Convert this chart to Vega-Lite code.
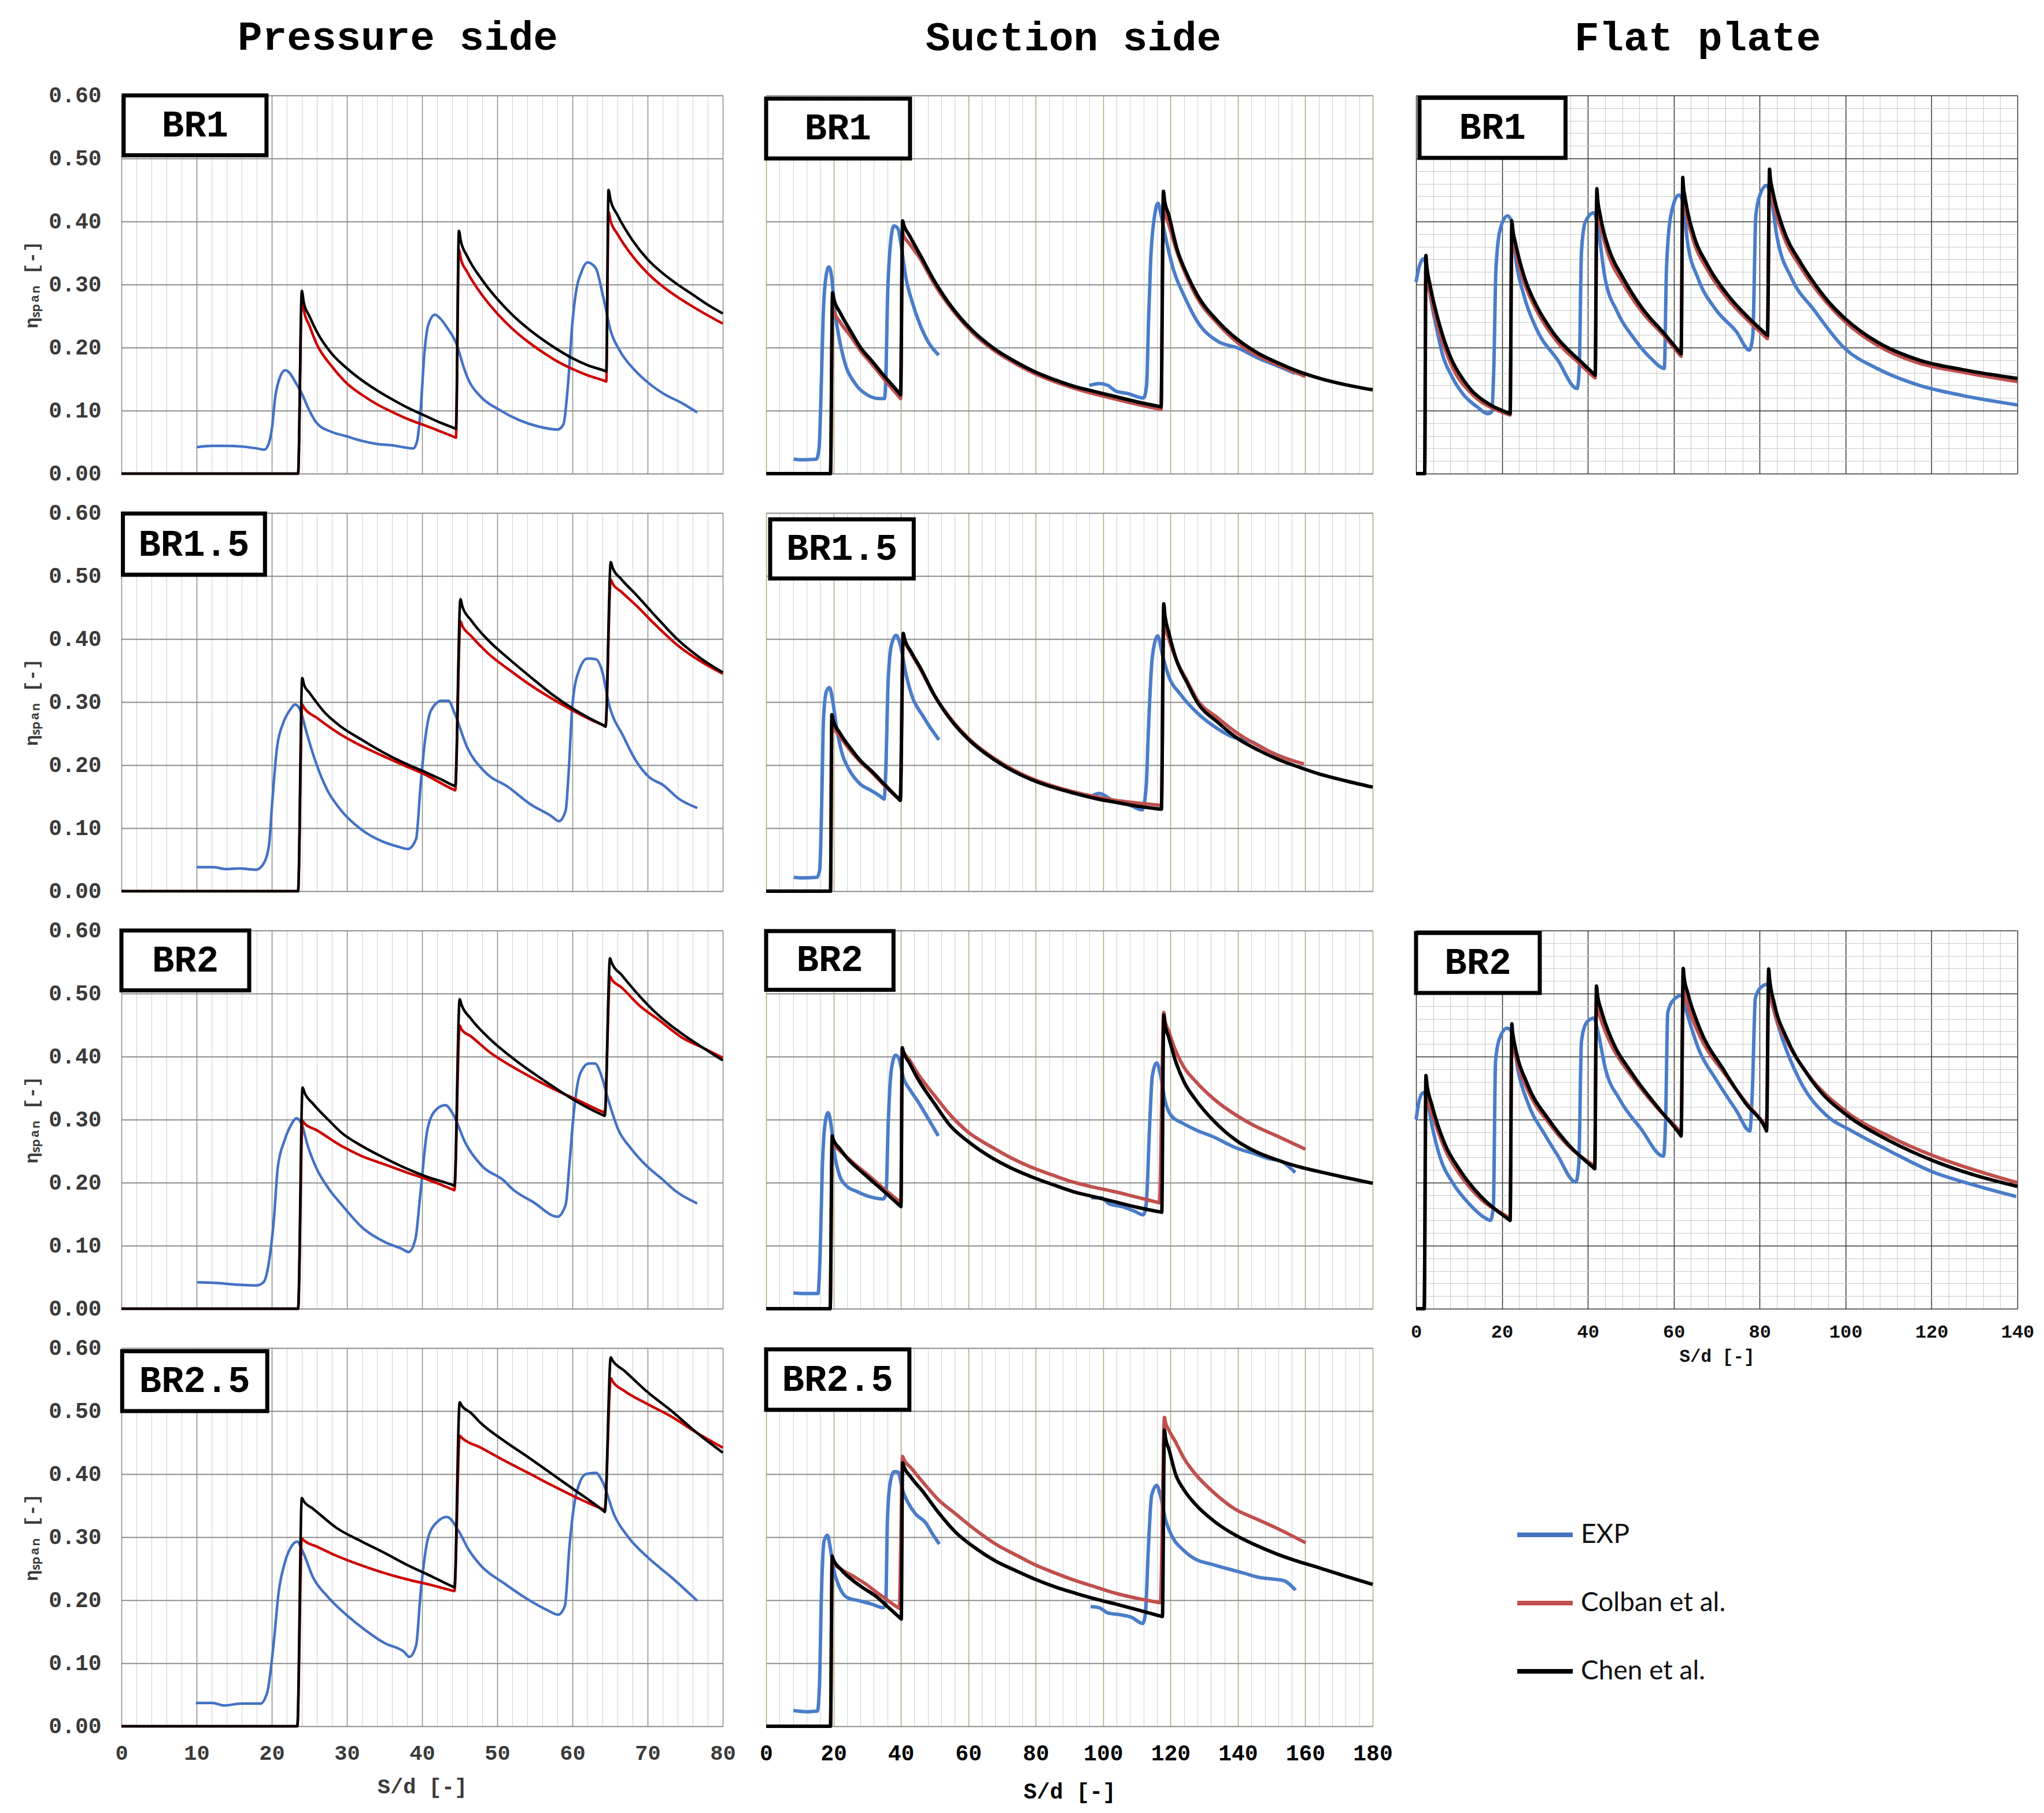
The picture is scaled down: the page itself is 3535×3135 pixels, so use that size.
{
  "$schema": "https://vega.github.io/schema/vega-lite/v6.json",
  "padding": {"left": 38, "top": 29, "right": 5, "bottom": 5},
  "background": "white",
  "datasets": {
    "curves": [
      {"panel":"P1","series":"EXP","seg":1,"x":10,"y":0.042},{"panel":"P1","series":"EXP","seg":1,"x":12,"y":0.044},{"panel":"P1","series":"EXP","seg":1,"x":14,"y":0.044},{"panel":"P1","series":"EXP","seg":1,"x":16,"y":0.043},{"panel":"P1","series":"EXP","seg":1,"x":18,"y":0.04},{"panel":"P1","series":"EXP","seg":1,"x":19,"y":0.038},{"panel":"P1","series":"EXP","seg":1,"x":19.6,"y":0.048},{"panel":"P1","series":"EXP","seg":1,"x":20,"y":0.07},{"panel":"P1","series":"EXP","seg":1,"x":20.5,"y":0.125},{"panel":"P1","series":"EXP","seg":1,"x":21,"y":0.15},{"panel":"P1","series":"EXP","seg":1,"x":21.8,"y":0.164},{"panel":"P1","series":"EXP","seg":1,"x":22.5,"y":0.158},{"panel":"P1","series":"EXP","seg":1,"x":23,"y":0.148},{"panel":"P1","series":"EXP","seg":1,"x":24,"y":0.127},{"panel":"P1","series":"EXP","seg":1,"x":25,"y":0.1},{"panel":"P1","series":"EXP","seg":1,"x":26,"y":0.08},{"panel":"P1","series":"EXP","seg":1,"x":28,"y":0.066},{"panel":"P1","series":"EXP","seg":1,"x":30,"y":0.059},{"panel":"P1","series":"EXP","seg":1,"x":32,"y":0.052},{"panel":"P1","series":"EXP","seg":1,"x":34,"y":0.047},{"panel":"P1","series":"EXP","seg":1,"x":36,"y":0.045},{"panel":"P1","series":"EXP","seg":1,"x":38,"y":0.041},{"panel":"P1","series":"EXP","seg":1,"x":38.8,"y":0.04},{"panel":"P1","series":"EXP","seg":1,"x":39.3,"y":0.05},{"panel":"P1","series":"EXP","seg":1,"x":39.8,"y":0.1},{"panel":"P1","series":"EXP","seg":1,"x":40.3,"y":0.19},{"panel":"P1","series":"EXP","seg":1,"x":40.8,"y":0.235},{"panel":"P1","series":"EXP","seg":1,"x":41.7,"y":0.252},{"panel":"P1","series":"EXP","seg":1,"x":42.5,"y":0.245},{"panel":"P1","series":"EXP","seg":1,"x":43.3,"y":0.232},{"panel":"P1","series":"EXP","seg":1,"x":44.6,"y":0.205},{"panel":"P1","series":"EXP","seg":1,"x":45.5,"y":0.17},{"panel":"P1","series":"EXP","seg":1,"x":46.2,"y":0.148},{"panel":"P1","series":"EXP","seg":1,"x":47.8,"y":0.122},{"panel":"P1","series":"EXP","seg":1,"x":50.3,"y":0.101},{"panel":"P1","series":"EXP","seg":1,"x":52.9,"y":0.085},{"panel":"P1","series":"EXP","seg":1,"x":55.4,"y":0.075},{"panel":"P1","series":"EXP","seg":1,"x":58,"y":0.07},{"panel":"P1","series":"EXP","seg":1,"x":58.8,"y":0.078},{"panel":"P1","series":"EXP","seg":1,"x":59.4,"y":0.14},{"panel":"P1","series":"EXP","seg":1,"x":60,"y":0.24},{"panel":"P1","series":"EXP","seg":1,"x":60.5,"y":0.29},{"panel":"P1","series":"EXP","seg":1,"x":61.2,"y":0.32},{"panel":"P1","series":"EXP","seg":1,"x":62,"y":0.335},{"panel":"P1","series":"EXP","seg":1,"x":63.1,"y":0.326},{"panel":"P1","series":"EXP","seg":1,"x":64.1,"y":0.28},{"panel":"P1","series":"EXP","seg":1,"x":65.1,"y":0.226},{"panel":"P1","series":"EXP","seg":1,"x":66.3,"y":0.195},{"panel":"P1","series":"EXP","seg":1,"x":68.3,"y":0.164},{"panel":"P1","series":"EXP","seg":1,"x":70.2,"y":0.143},{"panel":"P1","series":"EXP","seg":1,"x":72.1,"y":0.127},{"panel":"P1","series":"EXP","seg":1,"x":74.7,"y":0.111},{"panel":"P1","series":"EXP","seg":1,"x":76.6,"y":0.097},
      {"panel":"P1","series":"Colban","seg":1,"x":0,"y":0},{"panel":"P1","series":"Colban","seg":1,"x":23.5,"y":0},{"panel":"P1","series":"Colban","seg":1,"x":24,"y":0.28},{"panel":"P1","series":"Colban","seg":1,"x":24.25,"y":0.26},{"panel":"P1","series":"Colban","seg":1,"x":25,"y":0.235},{"panel":"P1","series":"Colban","seg":1,"x":26,"y":0.205},{"panel":"P1","series":"Colban","seg":1,"x":28,"y":0.17},{"panel":"P1","series":"Colban","seg":1,"x":30,"y":0.143},{"panel":"P1","series":"Colban","seg":1,"x":32,"y":0.125},{"panel":"P1","series":"Colban","seg":1,"x":34,"y":0.11},{"panel":"P1","series":"Colban","seg":1,"x":36,"y":0.098},{"panel":"P1","series":"Colban","seg":1,"x":38,"y":0.087},{"panel":"P1","series":"Colban","seg":1,"x":40,"y":0.078},{"panel":"P1","series":"Colban","seg":1,"x":42,"y":0.069},{"panel":"P1","series":"Colban","seg":1,"x":44.3,"y":0.058},{"panel":"P1","series":"Colban","seg":1,"x":44.5,"y":0.057},{"panel":"P1","series":"Colban","seg":1,"x":44.9,"y":0.355},{"panel":"P1","series":"Colban","seg":1,"x":45.15,"y":0.341},{"panel":"P1","series":"Colban","seg":1,"x":46,"y":0.32},{"panel":"P1","series":"Colban","seg":1,"x":48,"y":0.283},{"panel":"P1","series":"Colban","seg":1,"x":50,"y":0.254},{"panel":"P1","series":"Colban","seg":1,"x":52,"y":0.23},{"panel":"P1","series":"Colban","seg":1,"x":54,"y":0.21},{"panel":"P1","series":"Colban","seg":1,"x":56,"y":0.193},{"panel":"P1","series":"Colban","seg":1,"x":58,"y":0.178},{"panel":"P1","series":"Colban","seg":1,"x":60,"y":0.166},{"panel":"P1","series":"Colban","seg":1,"x":62,"y":0.156},{"panel":"P1","series":"Colban","seg":1,"x":64.3,"y":0.147},{"panel":"P1","series":"Colban","seg":1,"x":64.5,"y":0.146},{"panel":"P1","series":"Colban","seg":1,"x":64.8,"y":0.415},{"panel":"P1","series":"Colban","seg":1,"x":65.05,"y":0.402},{"panel":"P1","series":"Colban","seg":1,"x":66,"y":0.38},{"panel":"P1","series":"Colban","seg":1,"x":68,"y":0.345},{"panel":"P1","series":"Colban","seg":1,"x":70,"y":0.318},{"panel":"P1","series":"Colban","seg":1,"x":72,"y":0.297},{"panel":"P1","series":"Colban","seg":1,"x":74,"y":0.28},{"panel":"P1","series":"Colban","seg":1,"x":76,"y":0.265},{"panel":"P1","series":"Colban","seg":1,"x":78,"y":0.251},{"panel":"P1","series":"Colban","seg":1,"x":80,"y":0.238},
      {"panel":"P1","series":"Chen","seg":1,"x":0,"y":0},{"panel":"P1","series":"Chen","seg":1,"x":23.5,"y":0},{"panel":"P1","series":"Chen","seg":1,"x":24,"y":0.29},{"panel":"P1","series":"Chen","seg":1,"x":24.25,"y":0.272},{"panel":"P1","series":"Chen","seg":1,"x":25,"y":0.25},{"panel":"P1","series":"Chen","seg":1,"x":26,"y":0.225},{"panel":"P1","series":"Chen","seg":1,"x":28,"y":0.19},{"panel":"P1","series":"Chen","seg":1,"x":30,"y":0.167},{"panel":"P1","series":"Chen","seg":1,"x":32,"y":0.148},{"panel":"P1","series":"Chen","seg":1,"x":34,"y":0.132},{"panel":"P1","series":"Chen","seg":1,"x":36,"y":0.118},{"panel":"P1","series":"Chen","seg":1,"x":38,"y":0.105},{"panel":"P1","series":"Chen","seg":1,"x":40,"y":0.094},{"panel":"P1","series":"Chen","seg":1,"x":42,"y":0.083},{"panel":"P1","series":"Chen","seg":1,"x":44.3,"y":0.072},{"panel":"P1","series":"Chen","seg":1,"x":44.5,"y":0.071},{"panel":"P1","series":"Chen","seg":1,"x":44.9,"y":0.385},{"panel":"P1","series":"Chen","seg":1,"x":45.15,"y":0.369},{"panel":"P1","series":"Chen","seg":1,"x":46,"y":0.345},{"panel":"P1","series":"Chen","seg":1,"x":48,"y":0.307},{"panel":"P1","series":"Chen","seg":1,"x":50,"y":0.277},{"panel":"P1","series":"Chen","seg":1,"x":52,"y":0.252},{"panel":"P1","series":"Chen","seg":1,"x":54,"y":0.231},{"panel":"P1","series":"Chen","seg":1,"x":56,"y":0.213},{"panel":"P1","series":"Chen","seg":1,"x":58,"y":0.197},{"panel":"P1","series":"Chen","seg":1,"x":60,"y":0.183},{"panel":"P1","series":"Chen","seg":1,"x":62,"y":0.172},{"panel":"P1","series":"Chen","seg":1,"x":64.3,"y":0.163},{"panel":"P1","series":"Chen","seg":1,"x":64.5,"y":0.162},{"panel":"P1","series":"Chen","seg":1,"x":64.8,"y":0.45},{"panel":"P1","series":"Chen","seg":1,"x":65.05,"y":0.435},{"panel":"P1","series":"Chen","seg":1,"x":66,"y":0.41},{"panel":"P1","series":"Chen","seg":1,"x":68,"y":0.37},{"panel":"P1","series":"Chen","seg":1,"x":70,"y":0.34},{"panel":"P1","series":"Chen","seg":1,"x":72,"y":0.318},{"panel":"P1","series":"Chen","seg":1,"x":74,"y":0.3},{"panel":"P1","series":"Chen","seg":1,"x":76,"y":0.284},{"panel":"P1","series":"Chen","seg":1,"x":78,"y":0.268},{"panel":"P1","series":"Chen","seg":1,"x":80,"y":0.254},

      {"panel":"P15","series":"EXP","seg":1,"x":10,"y":0.038},{"panel":"P15","series":"EXP","seg":1,"x":12.3,"y":0.038},{"panel":"P15","series":"EXP","seg":1,"x":13.9,"y":0.035},{"panel":"P15","series":"EXP","seg":1,"x":15.6,"y":0.036},{"panel":"P15","series":"EXP","seg":1,"x":17.9,"y":0.034},{"panel":"P15","series":"EXP","seg":1,"x":18.7,"y":0.04},{"panel":"P15","series":"EXP","seg":1,"x":19.6,"y":0.07},{"panel":"P15","series":"EXP","seg":1,"x":20.1,"y":0.147},{"panel":"P15","series":"EXP","seg":1,"x":20.7,"y":0.228},{"panel":"P15","series":"EXP","seg":1,"x":21.5,"y":0.266},{"panel":"P15","series":"EXP","seg":1,"x":22.4,"y":0.287},{"panel":"P15","series":"EXP","seg":1,"x":23.1,"y":0.296},{"panel":"P15","series":"EXP","seg":1,"x":23.8,"y":0.287},{"panel":"P15","series":"EXP","seg":1,"x":24.6,"y":0.253},{"panel":"P15","series":"EXP","seg":1,"x":25.7,"y":0.21},{"panel":"P15","series":"EXP","seg":1,"x":27.4,"y":0.16},{"panel":"P15","series":"EXP","seg":1,"x":29.1,"y":0.13},{"panel":"P15","series":"EXP","seg":1,"x":31.9,"y":0.098},{"panel":"P15","series":"EXP","seg":1,"x":34.7,"y":0.079},{"panel":"P15","series":"EXP","seg":1,"x":37,"y":0.07},{"panel":"P15","series":"EXP","seg":1,"x":38.1,"y":0.067},{"panel":"P15","series":"EXP","seg":1,"x":39.2,"y":0.083},{"panel":"P15","series":"EXP","seg":1,"x":39.8,"y":0.168},{"panel":"P15","series":"EXP","seg":1,"x":40.4,"y":0.24},{"panel":"P15","series":"EXP","seg":1,"x":41.2,"y":0.287},{"panel":"P15","series":"EXP","seg":1,"x":42.6,"y":0.302},{"panel":"P15","series":"EXP","seg":1,"x":43.5,"y":0.302},{"panel":"P15","series":"EXP","seg":1,"x":44.3,"y":0.283},{"panel":"P15","series":"EXP","seg":1,"x":46,"y":0.228},{"panel":"P15","series":"EXP","seg":1,"x":48.2,"y":0.191},{"panel":"P15","series":"EXP","seg":1,"x":51.6,"y":0.164},{"panel":"P15","series":"EXP","seg":1,"x":54.4,"y":0.138},{"panel":"P15","series":"EXP","seg":1,"x":57.2,"y":0.119},{"panel":"P15","series":"EXP","seg":1,"x":58.2,"y":0.111},{"panel":"P15","series":"EXP","seg":1,"x":59.1,"y":0.128},{"panel":"P15","series":"EXP","seg":1,"x":59.5,"y":0.189},{"panel":"P15","series":"EXP","seg":1,"x":60,"y":0.296},{"panel":"P15","series":"EXP","seg":1,"x":60.9,"y":0.351},{"panel":"P15","series":"EXP","seg":1,"x":62,"y":0.369},{"panel":"P15","series":"EXP","seg":1,"x":63.1,"y":0.368},{"panel":"P15","series":"EXP","seg":1,"x":64,"y":0.347},{"panel":"P15","series":"EXP","seg":1,"x":64.8,"y":0.3},{"panel":"P15","series":"EXP","seg":1,"x":66.8,"y":0.245},{"panel":"P15","series":"EXP","seg":1,"x":68.5,"y":0.206},{"panel":"P15","series":"EXP","seg":1,"x":70.2,"y":0.181},{"panel":"P15","series":"EXP","seg":1,"x":72.1,"y":0.168},{"panel":"P15","series":"EXP","seg":1,"x":74.1,"y":0.147},{"panel":"P15","series":"EXP","seg":1,"x":76.6,"y":0.132},
      {"panel":"P15","series":"Colban","seg":1,"x":0,"y":0},{"panel":"P15","series":"Colban","seg":1,"x":23.5,"y":0},{"panel":"P15","series":"Colban","seg":1,"x":24.05,"y":0.296},{"panel":"P15","series":"Colban","seg":1,"x":24.3,"y":0.291},{"panel":"P15","series":"Colban","seg":1,"x":26,"y":0.275},{"panel":"P15","series":"Colban","seg":1,"x":29.1,"y":0.249},{"panel":"P15","series":"Colban","seg":1,"x":32,"y":0.23},{"panel":"P15","series":"Colban","seg":1,"x":34.7,"y":0.215},{"panel":"P15","series":"Colban","seg":1,"x":37.5,"y":0.2},{"panel":"P15","series":"Colban","seg":1,"x":40.4,"y":0.185},{"panel":"P15","series":"Colban","seg":1,"x":44.2,"y":0.161},{"panel":"P15","series":"Colban","seg":1,"x":44.4,"y":0.16},{"panel":"P15","series":"Colban","seg":1,"x":45.1,"y":0.428},{"panel":"P15","series":"Colban","seg":1,"x":45.35,"y":0.421},{"panel":"P15","series":"Colban","seg":1,"x":46.5,"y":0.405},{"panel":"P15","series":"Colban","seg":1,"x":48.8,"y":0.377},{"panel":"P15","series":"Colban","seg":1,"x":51.6,"y":0.351},{"panel":"P15","series":"Colban","seg":1,"x":54.4,"y":0.327},{"panel":"P15","series":"Colban","seg":1,"x":57.2,"y":0.306},{"panel":"P15","series":"Colban","seg":1,"x":60,"y":0.287},{"panel":"P15","series":"Colban","seg":1,"x":62.8,"y":0.27},{"panel":"P15","series":"Colban","seg":1,"x":64.2,"y":0.2625},{"panel":"P15","series":"Colban","seg":1,"x":64.4,"y":0.261},{"panel":"P15","series":"Colban","seg":1,"x":65.1,"y":0.494},{"panel":"P15","series":"Colban","seg":1,"x":65.35,"y":0.488},{"panel":"P15","series":"Colban","seg":1,"x":66.5,"y":0.475},{"panel":"P15","series":"Colban","seg":1,"x":68.5,"y":0.453},{"panel":"P15","series":"Colban","seg":1,"x":71,"y":0.423},{"panel":"P15","series":"Colban","seg":1,"x":74.1,"y":0.389},{"panel":"P15","series":"Colban","seg":1,"x":77,"y":0.365},{"panel":"P15","series":"Colban","seg":1,"x":80,"y":0.345},
      {"panel":"P15","series":"Chen","seg":1,"x":0,"y":0},{"panel":"P15","series":"Chen","seg":1,"x":23.5,"y":0},{"panel":"P15","series":"Chen","seg":1,"x":24.05,"y":0.338},{"panel":"P15","series":"Chen","seg":1,"x":24.3,"y":0.327},{"panel":"P15","series":"Chen","seg":1,"x":25,"y":0.315},{"panel":"P15","series":"Chen","seg":1,"x":27,"y":0.284},{"panel":"P15","series":"Chen","seg":1,"x":29.1,"y":0.262},{"panel":"P15","series":"Chen","seg":1,"x":32,"y":0.24},{"panel":"P15","series":"Chen","seg":1,"x":34.7,"y":0.221},{"panel":"P15","series":"Chen","seg":1,"x":37.5,"y":0.204},{"panel":"P15","series":"Chen","seg":1,"x":40.4,"y":0.189},{"panel":"P15","series":"Chen","seg":1,"x":42.5,"y":0.1775},{"panel":"P15","series":"Chen","seg":1,"x":44.2,"y":0.1675},{"panel":"P15","series":"Chen","seg":1,"x":44.4,"y":0.1665},{"panel":"P15","series":"Chen","seg":1,"x":45.1,"y":0.463},{"panel":"P15","series":"Chen","seg":1,"x":45.35,"y":0.452},{"panel":"P15","series":"Chen","seg":1,"x":46.5,"y":0.43},{"panel":"P15","series":"Chen","seg":1,"x":48.8,"y":0.398},{"panel":"P15","series":"Chen","seg":1,"x":51.6,"y":0.368},{"panel":"P15","series":"Chen","seg":1,"x":54.4,"y":0.34},{"panel":"P15","series":"Chen","seg":1,"x":57.2,"y":0.313},{"panel":"P15","series":"Chen","seg":1,"x":60,"y":0.29},{"panel":"P15","series":"Chen","seg":1,"x":62.8,"y":0.271},{"panel":"P15","series":"Chen","seg":1,"x":64.2,"y":0.2625},{"panel":"P15","series":"Chen","seg":1,"x":64.4,"y":0.261},{"panel":"P15","series":"Chen","seg":1,"x":65.1,"y":0.522},{"panel":"P15","series":"Chen","seg":1,"x":65.35,"y":0.513},{"panel":"P15","series":"Chen","seg":1,"x":66.5,"y":0.495},{"panel":"P15","series":"Chen","seg":1,"x":68.5,"y":0.47},{"panel":"P15","series":"Chen","seg":1,"x":71,"y":0.437},{"panel":"P15","series":"Chen","seg":1,"x":74.1,"y":0.398},{"panel":"P15","series":"Chen","seg":1,"x":77,"y":0.37},{"panel":"P15","series":"Chen","seg":1,"x":80,"y":0.347},

      {"panel":"P2","series":"EXP","seg":1,"x":10.1,"y":0.042},{"panel":"P2","series":"EXP","seg":1,"x":12.3,"y":0.041},{"panel":"P2","series":"EXP","seg":1,"x":15.7,"y":0.038},{"panel":"P2","series":"EXP","seg":1,"x":18,"y":0.037},{"panel":"P2","series":"EXP","seg":1,"x":18.9,"y":0.042},{"panel":"P2","series":"EXP","seg":1,"x":19.7,"y":0.08},{"panel":"P2","series":"EXP","seg":1,"x":20.3,"y":0.144},{"panel":"P2","series":"EXP","seg":1,"x":20.8,"y":0.224},{"panel":"P2","series":"EXP","seg":1,"x":21.7,"y":0.267},{"panel":"P2","series":"EXP","seg":1,"x":22.5,"y":0.29},{"panel":"P2","series":"EXP","seg":1,"x":23.3,"y":0.302},{"panel":"P2","series":"EXP","seg":1,"x":24,"y":0.292},{"panel":"P2","series":"EXP","seg":1,"x":24.8,"y":0.258},{"panel":"P2","series":"EXP","seg":1,"x":25.9,"y":0.224},{"panel":"P2","series":"EXP","seg":1,"x":27.6,"y":0.19},{"panel":"P2","series":"EXP","seg":1,"x":29.3,"y":0.165},{"panel":"P2","series":"EXP","seg":1,"x":32.2,"y":0.127},{"panel":"P2","series":"EXP","seg":1,"x":35,"y":0.106},{"panel":"P2","series":"EXP","seg":1,"x":37.3,"y":0.095},{"panel":"P2","series":"EXP","seg":1,"x":38.2,"y":0.09},{"panel":"P2","series":"EXP","seg":1,"x":39.1,"y":0.11},{"panel":"P2","series":"EXP","seg":1,"x":39.8,"y":0.186},{"panel":"P2","series":"EXP","seg":1,"x":40.7,"y":0.284},{"panel":"P2","series":"EXP","seg":1,"x":41.8,"y":0.315},{"panel":"P2","series":"EXP","seg":1,"x":43.1,"y":0.323},{"panel":"P2","series":"EXP","seg":1,"x":44.1,"y":0.309},{"panel":"P2","series":"EXP","seg":1,"x":45.8,"y":0.262},{"panel":"P2","series":"EXP","seg":1,"x":48,"y":0.226},{"panel":"P2","series":"EXP","seg":1,"x":50.9,"y":0.203},{"panel":"P2","series":"EXP","seg":1,"x":52,"y":0.19},{"panel":"P2","series":"EXP","seg":1,"x":54.8,"y":0.169},{"panel":"P2","series":"EXP","seg":1,"x":58,"y":0.146},{"panel":"P2","series":"EXP","seg":1,"x":59.1,"y":0.165},{"panel":"P2","series":"EXP","seg":1,"x":59.6,"y":0.229},{"panel":"P2","series":"EXP","seg":1,"x":60.2,"y":0.313},{"panel":"P2","series":"EXP","seg":1,"x":61,"y":0.372},{"panel":"P2","series":"EXP","seg":1,"x":62.2,"y":0.389},{"panel":"P2","series":"EXP","seg":1,"x":63,"y":0.389},{"panel":"P2","series":"EXP","seg":1,"x":63.9,"y":0.368},{"panel":"P2","series":"EXP","seg":1,"x":64.7,"y":0.334},{"panel":"P2","series":"EXP","seg":1,"x":66.1,"y":0.284},{"panel":"P2","series":"EXP","seg":1,"x":67.8,"y":0.254},{"panel":"P2","series":"EXP","seg":1,"x":70.1,"y":0.224},{"panel":"P2","series":"EXP","seg":1,"x":71.8,"y":0.207},{"panel":"P2","series":"EXP","seg":1,"x":73.8,"y":0.186},{"panel":"P2","series":"EXP","seg":1,"x":76.6,"y":0.167},
      {"panel":"P2","series":"Colban","seg":1,"x":0,"y":0},{"panel":"P2","series":"Colban","seg":1,"x":23.5,"y":0},{"panel":"P2","series":"Colban","seg":1,"x":24.1,"y":0.298},{"panel":"P2","series":"Colban","seg":1,"x":24.35,"y":0.294},{"panel":"P2","series":"Colban","seg":1,"x":26,"y":0.283},{"panel":"P2","series":"Colban","seg":1,"x":29.3,"y":0.258},{"panel":"P2","series":"Colban","seg":1,"x":32,"y":0.242},{"panel":"P2","series":"Colban","seg":1,"x":35,"y":0.229},{"panel":"P2","series":"Colban","seg":1,"x":38,"y":0.216},{"panel":"P2","series":"Colban","seg":1,"x":40.7,"y":0.205},{"panel":"P2","series":"Colban","seg":1,"x":44.1,"y":0.189},{"panel":"P2","series":"Colban","seg":1,"x":44.3,"y":0.188},{"panel":"P2","series":"Colban","seg":1,"x":45,"y":0.449},{"panel":"P2","series":"Colban","seg":1,"x":45.25,"y":0.443},{"panel":"P2","series":"Colban","seg":1,"x":46.5,"y":0.432},{"panel":"P2","series":"Colban","seg":1,"x":49.1,"y":0.406},{"panel":"P2","series":"Colban","seg":1,"x":52,"y":0.384},{"panel":"P2","series":"Colban","seg":1,"x":55,"y":0.364},{"panel":"P2","series":"Colban","seg":1,"x":57.6,"y":0.348},{"panel":"P2","series":"Colban","seg":1,"x":60.5,"y":0.332},{"panel":"P2","series":"Colban","seg":1,"x":64.1,"y":0.312},{"panel":"P2","series":"Colban","seg":1,"x":64.3,"y":0.311},{"panel":"P2","series":"Colban","seg":1,"x":65,"y":0.527},{"panel":"P2","series":"Colban","seg":1,"x":65.25,"y":0.522},{"panel":"P2","series":"Colban","seg":1,"x":66.5,"y":0.51},{"panel":"P2","series":"Colban","seg":1,"x":69,"y":0.48},{"panel":"P2","series":"Colban","seg":1,"x":71.5,"y":0.458},{"panel":"P2","series":"Colban","seg":1,"x":74.6,"y":0.43},{"panel":"P2","series":"Colban","seg":1,"x":77.5,"y":0.413},{"panel":"P2","series":"Colban","seg":1,"x":80,"y":0.398},
      {"panel":"P2","series":"Chen","seg":1,"x":0,"y":0},{"panel":"P2","series":"Chen","seg":1,"x":23.5,"y":0},{"panel":"P2","series":"Chen","seg":1,"x":24.1,"y":0.351},{"panel":"P2","series":"Chen","seg":1,"x":24.35,"y":0.343},{"panel":"P2","series":"Chen","seg":1,"x":25.5,"y":0.325},{"panel":"P2","series":"Chen","seg":1,"x":27.5,"y":0.3},{"panel":"P2","series":"Chen","seg":1,"x":29.3,"y":0.279},{"panel":"P2","series":"Chen","seg":1,"x":32,"y":0.258},{"panel":"P2","series":"Chen","seg":1,"x":35,"y":0.239},{"panel":"P2","series":"Chen","seg":1,"x":38,"y":0.222},{"panel":"P2","series":"Chen","seg":1,"x":40.7,"y":0.209},{"panel":"P2","series":"Chen","seg":1,"x":44.1,"y":0.196},{"panel":"P2","series":"Chen","seg":1,"x":44.3,"y":0.195},{"panel":"P2","series":"Chen","seg":1,"x":45,"y":0.491},{"panel":"P2","series":"Chen","seg":1,"x":45.25,"y":0.482},{"panel":"P2","series":"Chen","seg":1,"x":46.5,"y":0.46},{"panel":"P2","series":"Chen","seg":1,"x":49.1,"y":0.427},{"panel":"P2","series":"Chen","seg":1,"x":52,"y":0.398},{"panel":"P2","series":"Chen","seg":1,"x":55,"y":0.372},{"panel":"P2","series":"Chen","seg":1,"x":57.6,"y":0.351},{"panel":"P2","series":"Chen","seg":1,"x":60.5,"y":0.329},{"panel":"P2","series":"Chen","seg":1,"x":64.1,"y":0.307},{"panel":"P2","series":"Chen","seg":1,"x":64.3,"y":0.306},{"panel":"P2","series":"Chen","seg":1,"x":65,"y":0.556},{"panel":"P2","series":"Chen","seg":1,"x":65.25,"y":0.548},{"panel":"P2","series":"Chen","seg":1,"x":66.5,"y":0.53},{"panel":"P2","series":"Chen","seg":1,"x":69,"y":0.495},{"panel":"P2","series":"Chen","seg":1,"x":71.5,"y":0.465},{"panel":"P2","series":"Chen","seg":1,"x":74.6,"y":0.436},{"panel":"P2","series":"Chen","seg":1,"x":77.5,"y":0.413},{"panel":"P2","series":"Chen","seg":1,"x":80,"y":0.394},

      {"panel":"P25","series":"EXP","seg":1,"x":9.9,"y":0.037},{"panel":"P25","series":"EXP","seg":1,"x":12.1,"y":0.037},{"panel":"P25","series":"EXP","seg":1,"x":13.7,"y":0.033},{"panel":"P25","series":"EXP","seg":1,"x":15.9,"y":0.036},{"panel":"P25","series":"EXP","seg":1,"x":18.5,"y":0.036},{"panel":"P25","series":"EXP","seg":1,"x":19.4,"y":0.054},{"panel":"P25","series":"EXP","seg":1,"x":20.3,"y":0.137},{"panel":"P25","series":"EXP","seg":1,"x":20.9,"y":0.211},{"panel":"P25","series":"EXP","seg":1,"x":21.7,"y":0.258},{"panel":"P25","series":"EXP","seg":1,"x":22.6,"y":0.285},{"panel":"P25","series":"EXP","seg":1,"x":23.4,"y":0.293},{"panel":"P25","series":"EXP","seg":1,"x":24.2,"y":0.275},{"panel":"P25","series":"EXP","seg":1,"x":25.5,"y":0.236},{"panel":"P25","series":"EXP","seg":1,"x":27.4,"y":0.206},{"panel":"P25","series":"EXP","seg":1,"x":29.9,"y":0.177},{"panel":"P25","series":"EXP","seg":1,"x":32.5,"y":0.152},{"panel":"P25","series":"EXP","seg":1,"x":35,"y":0.132},{"panel":"P25","series":"EXP","seg":1,"x":37.6,"y":0.118},{"panel":"P25","series":"EXP","seg":1,"x":38.3,"y":0.11},{"panel":"P25","series":"EXP","seg":1,"x":39.2,"y":0.128},{"panel":"P25","series":"EXP","seg":1,"x":39.8,"y":0.211},{"panel":"P25","series":"EXP","seg":1,"x":40.8,"y":0.299},{"panel":"P25","series":"EXP","seg":1,"x":42,"y":0.324},{"panel":"P25","series":"EXP","seg":1,"x":43.3,"y":0.332},{"panel":"P25","series":"EXP","seg":1,"x":44.9,"y":0.309},{"panel":"P25","series":"EXP","seg":1,"x":46.2,"y":0.28},{"panel":"P25","series":"EXP","seg":1,"x":47.8,"y":0.255},{"panel":"P25","series":"EXP","seg":1,"x":51,"y":0.226},{"panel":"P25","series":"EXP","seg":1,"x":54.1,"y":0.201},{"panel":"P25","series":"EXP","seg":1,"x":56.7,"y":0.184},{"panel":"P25","series":"EXP","seg":1,"x":58.1,"y":0.177},{"panel":"P25","series":"EXP","seg":1,"x":59,"y":0.191},{"panel":"P25","series":"EXP","seg":1,"x":59.6,"y":0.285},{"panel":"P25","series":"EXP","seg":1,"x":60.5,"y":0.368},{"panel":"P25","series":"EXP","seg":1,"x":61.8,"y":0.4},{"panel":"P25","series":"EXP","seg":1,"x":63.1,"y":0.402},{"panel":"P25","series":"EXP","seg":1,"x":64,"y":0.388},{"panel":"P25","series":"EXP","seg":1,"x":65.6,"y":0.334},{"panel":"P25","series":"EXP","seg":1,"x":67.5,"y":0.299},{"panel":"P25","series":"EXP","seg":1,"x":70.1,"y":0.267},{"panel":"P25","series":"EXP","seg":1,"x":73.2,"y":0.236},{"panel":"P25","series":"EXP","seg":1,"x":76.6,"y":0.199},
      {"panel":"P25","series":"Colban","seg":1,"x":0,"y":0},{"panel":"P25","series":"Colban","seg":1,"x":23.4,"y":0},{"panel":"P25","series":"Colban","seg":1,"x":24,"y":0.298},{"panel":"P25","series":"Colban","seg":1,"x":24.25,"y":0.295},{"panel":"P25","series":"Colban","seg":1,"x":26,"y":0.285},{"panel":"P25","series":"Colban","seg":1,"x":28.7,"y":0.27},{"panel":"P25","series":"Colban","seg":1,"x":32,"y":0.255},{"panel":"P25","series":"Colban","seg":1,"x":35,"y":0.243},{"panel":"P25","series":"Colban","seg":1,"x":38,"y":0.233},{"panel":"P25","series":"Colban","seg":1,"x":41.4,"y":0.2235},{"panel":"P25","series":"Colban","seg":1,"x":44.1,"y":0.215},{"panel":"P25","series":"Colban","seg":1,"x":44.3,"y":0.2145},{"panel":"P25","series":"Colban","seg":1,"x":45,"y":0.461},{"panel":"P25","series":"Colban","seg":1,"x":45.25,"y":0.458},{"panel":"P25","series":"Colban","seg":1,"x":47.8,"y":0.442},{"panel":"P25","series":"Colban","seg":1,"x":51,"y":0.421},{"panel":"P25","series":"Colban","seg":1,"x":54.1,"y":0.402},{"panel":"P25","series":"Colban","seg":1,"x":57.3,"y":0.382},{"panel":"P25","series":"Colban","seg":1,"x":60.5,"y":0.363},{"panel":"P25","series":"Colban","seg":1,"x":64.1,"y":0.344},{"panel":"P25","series":"Colban","seg":1,"x":64.3,"y":0.343},{"panel":"P25","series":"Colban","seg":1,"x":65.1,"y":0.552},{"panel":"P25","series":"Colban","seg":1,"x":65.35,"y":0.547},{"panel":"P25","series":"Colban","seg":1,"x":66.9,"y":0.532},{"panel":"P25","series":"Colban","seg":1,"x":70,"y":0.511},{"panel":"P25","series":"Colban","seg":1,"x":73.2,"y":0.491},{"panel":"P25","series":"Colban","seg":1,"x":76.5,"y":0.466},{"panel":"P25","series":"Colban","seg":1,"x":80,"y":0.442},
      {"panel":"P25","series":"Chen","seg":1,"x":0,"y":0},{"panel":"P25","series":"Chen","seg":1,"x":23.4,"y":0},{"panel":"P25","series":"Chen","seg":1,"x":24,"y":0.362},{"panel":"P25","series":"Chen","seg":1,"x":24.25,"y":0.357},{"panel":"P25","series":"Chen","seg":1,"x":25.5,"y":0.345},{"panel":"P25","series":"Chen","seg":1,"x":28.7,"y":0.314},{"panel":"P25","series":"Chen","seg":1,"x":32,"y":0.293},{"panel":"P25","series":"Chen","seg":1,"x":35,"y":0.275},{"panel":"P25","series":"Chen","seg":1,"x":38,"y":0.256},{"panel":"P25","series":"Chen","seg":1,"x":41.4,"y":0.237},{"panel":"P25","series":"Chen","seg":1,"x":44.1,"y":0.2215},{"panel":"P25","series":"Chen","seg":1,"x":44.3,"y":0.2205},{"panel":"P25","series":"Chen","seg":1,"x":45,"y":0.514},{"panel":"P25","series":"Chen","seg":1,"x":45.25,"y":0.509},{"panel":"P25","series":"Chen","seg":1,"x":46.5,"y":0.497},{"panel":"P25","series":"Chen","seg":1,"x":47.8,"y":0.481},{"panel":"P25","series":"Chen","seg":1,"x":51,"y":0.452},{"panel":"P25","series":"Chen","seg":1,"x":54.1,"y":0.427},{"panel":"P25","series":"Chen","seg":1,"x":57.3,"y":0.4},{"panel":"P25","series":"Chen","seg":1,"x":60.5,"y":0.373},{"panel":"P25","series":"Chen","seg":1,"x":64.1,"y":0.342},{"panel":"P25","series":"Chen","seg":1,"x":64.3,"y":0.34},{"panel":"P25","series":"Chen","seg":1,"x":65.1,"y":0.585},{"panel":"P25","series":"Chen","seg":1,"x":65.35,"y":0.58},{"panel":"P25","series":"Chen","seg":1,"x":66.9,"y":0.564},{"panel":"P25","series":"Chen","seg":1,"x":70,"y":0.53},{"panel":"P25","series":"Chen","seg":1,"x":73.2,"y":0.5},{"panel":"P25","series":"Chen","seg":1,"x":76.5,"y":0.466},{"panel":"P25","series":"Chen","seg":1,"x":80,"y":0.434},

      {"panel":"S1","series":"EXP","seg":1,"x":8.2,"y":0.023},{"panel":"S1","series":"EXP","seg":1,"x":10.6,"y":0.022},{"panel":"S1","series":"EXP","seg":1,"x":14.9,"y":0.023},{"panel":"S1","series":"EXP","seg":1,"x":15.7,"y":0.04},{"panel":"S1","series":"EXP","seg":1,"x":16.5,"y":0.167},{"panel":"S1","series":"EXP","seg":1,"x":16.9,"y":0.246},{"panel":"S1","series":"EXP","seg":1,"x":17.7,"y":0.31},{"panel":"S1","series":"EXP","seg":1,"x":18.6,"y":0.328},{"panel":"S1","series":"EXP","seg":1,"x":19.5,"y":0.31},{"panel":"S1","series":"EXP","seg":1,"x":20.3,"y":0.262},{"panel":"S1","series":"EXP","seg":1,"x":21.5,"y":0.22},{"panel":"S1","series":"EXP","seg":1,"x":23.3,"y":0.177},{"panel":"S1","series":"EXP","seg":1,"x":26.4,"y":0.143},{"panel":"S1","series":"EXP","seg":1,"x":30,"y":0.125},{"panel":"S1","series":"EXP","seg":1,"x":33.6,"y":0.119},{"panel":"S1","series":"EXP","seg":1,"x":35.1,"y":0.119},{"panel":"S1","series":"EXP","seg":1,"x":35.6,"y":0.167},{"panel":"S1","series":"EXP","seg":1,"x":36,"y":0.273},{"panel":"S1","series":"EXP","seg":1,"x":36.7,"y":0.352},{"panel":"S1","series":"EXP","seg":1,"x":37.9,"y":0.393},{"panel":"S1","series":"EXP","seg":1,"x":39.1,"y":0.389},{"panel":"S1","series":"EXP","seg":1,"x":39.9,"y":0.368},{"panel":"S1","series":"EXP","seg":1,"x":41.5,"y":0.31},{"panel":"S1","series":"EXP","seg":1,"x":43.3,"y":0.273},{"panel":"S1","series":"EXP","seg":1,"x":45.7,"y":0.236},{"panel":"S1","series":"EXP","seg":1,"x":48.1,"y":0.209},{"panel":"S1","series":"EXP","seg":1,"x":51.2,"y":0.188},
      {"panel":"S1","series":"EXP","seg":2,"x":95.9,"y":0.14},{"panel":"S1","series":"EXP","seg":2,"x":99,"y":0.143},{"panel":"S1","series":"EXP","seg":2,"x":101.4,"y":0.14},{"panel":"S1","series":"EXP","seg":2,"x":103.8,"y":0.131},{"panel":"S1","series":"EXP","seg":2,"x":107.4,"y":0.127},{"panel":"S1","series":"EXP","seg":2,"x":112,"y":0.12},{"panel":"S1","series":"EXP","seg":2,"x":112.9,"y":0.14},{"panel":"S1","series":"EXP","seg":2,"x":113.5,"y":0.246},{"panel":"S1","series":"EXP","seg":2,"x":114.1,"y":0.336},{"panel":"S1","series":"EXP","seg":2,"x":115.3,"y":0.41},{"panel":"S1","series":"EXP","seg":2,"x":116.3,"y":0.429},{"panel":"S1","series":"EXP","seg":2,"x":117.2,"y":0.41},{"panel":"S1","series":"EXP","seg":2,"x":118.4,"y":0.378},{"panel":"S1","series":"EXP","seg":2,"x":120.8,"y":0.325},{"panel":"S1","series":"EXP","seg":2,"x":124.4,"y":0.278},{"panel":"S1","series":"EXP","seg":2,"x":128,"y":0.241},{"panel":"S1","series":"EXP","seg":2,"x":134,"y":0.21},{"panel":"S1","series":"EXP","seg":2,"x":140.1,"y":0.199},{"panel":"S1","series":"EXP","seg":2,"x":146.1,"y":0.183},{"panel":"S1","series":"EXP","seg":2,"x":152.2,"y":0.17},{"panel":"S1","series":"EXP","seg":2,"x":157,"y":0.159},
      {"panel":"S1","series":"Colban","seg":1,"x":0,"y":0},{"panel":"S1","series":"Colban","seg":1,"x":19.1,"y":0},{"panel":"S1","series":"Colban","seg":1,"x":19.7,"y":0.265},{"panel":"S1","series":"Colban","seg":1,"x":20,"y":0.259},{"panel":"S1","series":"Colban","seg":1,"x":22,"y":0.24},{"panel":"S1","series":"Colban","seg":1,"x":25.2,"y":0.217},{"panel":"S1","series":"Colban","seg":1,"x":28,"y":0.195},{"panel":"S1","series":"Colban","seg":1,"x":31.2,"y":0.175},{"panel":"S1","series":"Colban","seg":1,"x":35,"y":0.15},{"panel":"S1","series":"Colban","seg":1,"x":39.6,"y":0.121},{"panel":"S1","series":"Colban","seg":1,"x":39.9,"y":0.119},{"panel":"S1","series":"Colban","seg":1,"x":40.5,"y":0.383},{"panel":"S1","series":"Colban","seg":1,"x":40.8,"y":0.378},{"panel":"S1","series":"Colban","seg":1,"x":42.5,"y":0.365},{"panel":"S1","series":"Colban","seg":1,"x":45.7,"y":0.341},{"panel":"S1","series":"Colban","seg":1,"x":50,"y":0.3},{"panel":"S1","series":"Colban","seg":1,"x":55.4,"y":0.259},{"panel":"S1","series":"Colban","seg":1,"x":61,"y":0.225},{"panel":"S1","series":"Colban","seg":1,"x":67.5,"y":0.196},{"panel":"S1","series":"Colban","seg":1,"x":73.5,"y":0.176},{"panel":"S1","series":"Colban","seg":1,"x":79.6,"y":0.159},{"panel":"S1","series":"Colban","seg":1,"x":85.6,"y":0.146},{"panel":"S1","series":"Colban","seg":1,"x":91.7,"y":0.135},{"panel":"S1","series":"Colban","seg":1,"x":97.7,"y":0.126},{"panel":"S1","series":"Colban","seg":1,"x":103.8,"y":0.118},{"panel":"S1","series":"Colban","seg":1,"x":110,"y":0.11},{"panel":"S1","series":"Colban","seg":1,"x":116.9,"y":0.1023},{"panel":"S1","series":"Colban","seg":1,"x":117.2,"y":0.102},{"panel":"S1","series":"Colban","seg":1,"x":117.9,"y":0.431},{"panel":"S1","series":"Colban","seg":1,"x":118.2,"y":0.419},{"panel":"S1","series":"Colban","seg":1,"x":119.5,"y":0.395},{"panel":"S1","series":"Colban","seg":1,"x":121.9,"y":0.352},{"panel":"S1","series":"Colban","seg":1,"x":125,"y":0.31},{"panel":"S1","series":"Colban","seg":1,"x":128,"y":0.278},{"panel":"S1","series":"Colban","seg":1,"x":134,"y":0.238},{"panel":"S1","series":"Colban","seg":1,"x":140.1,"y":0.207},{"panel":"S1","series":"Colban","seg":1,"x":146,"y":0.187},{"panel":"S1","series":"Colban","seg":1,"x":152.2,"y":0.172},{"panel":"S1","series":"Colban","seg":1,"x":160,"y":0.154},
      {"panel":"S1","series":"Chen","seg":1,"x":0,"y":0},{"panel":"S1","series":"Chen","seg":1,"x":19.1,"y":0},{"panel":"S1","series":"Chen","seg":1,"x":19.7,"y":0.287},{"panel":"S1","series":"Chen","seg":1,"x":20,"y":0.279},{"panel":"S1","series":"Chen","seg":1,"x":22,"y":0.255},{"panel":"S1","series":"Chen","seg":1,"x":25.2,"y":0.225},{"panel":"S1","series":"Chen","seg":1,"x":28,"y":0.2},{"panel":"S1","series":"Chen","seg":1,"x":31.2,"y":0.18},{"panel":"S1","series":"Chen","seg":1,"x":35,"y":0.155},{"panel":"S1","series":"Chen","seg":1,"x":39.6,"y":0.127},{"panel":"S1","series":"Chen","seg":1,"x":39.9,"y":0.125},{"panel":"S1","series":"Chen","seg":1,"x":40.5,"y":0.401},{"panel":"S1","series":"Chen","seg":1,"x":40.8,"y":0.395},{"panel":"S1","series":"Chen","seg":1,"x":42.5,"y":0.378},{"panel":"S1","series":"Chen","seg":1,"x":45.7,"y":0.347},{"panel":"S1","series":"Chen","seg":1,"x":50,"y":0.305},{"panel":"S1","series":"Chen","seg":1,"x":55.4,"y":0.262},{"panel":"S1","series":"Chen","seg":1,"x":61,"y":0.228},{"panel":"S1","series":"Chen","seg":1,"x":67.5,"y":0.199},{"panel":"S1","series":"Chen","seg":1,"x":73.5,"y":0.179},{"panel":"S1","series":"Chen","seg":1,"x":79.6,"y":0.162},{"panel":"S1","series":"Chen","seg":1,"x":85.6,"y":0.149},{"panel":"S1","series":"Chen","seg":1,"x":91.7,"y":0.138},{"panel":"S1","series":"Chen","seg":1,"x":97.7,"y":0.13},{"panel":"S1","series":"Chen","seg":1,"x":103.8,"y":0.122},{"panel":"S1","series":"Chen","seg":1,"x":110,"y":0.114},{"panel":"S1","series":"Chen","seg":1,"x":116.9,"y":0.1063},{"panel":"S1","series":"Chen","seg":1,"x":117.2,"y":0.106},{"panel":"S1","series":"Chen","seg":1,"x":117.9,"y":0.448},{"panel":"S1","series":"Chen","seg":1,"x":118.2,"y":0.435},{"panel":"S1","series":"Chen","seg":1,"x":119.5,"y":0.41},{"panel":"S1","series":"Chen","seg":1,"x":121.9,"y":0.357},{"panel":"S1","series":"Chen","seg":1,"x":125,"y":0.315},{"panel":"S1","series":"Chen","seg":1,"x":128,"y":0.283},{"panel":"S1","series":"Chen","seg":1,"x":134,"y":0.242},{"panel":"S1","series":"Chen","seg":1,"x":140.1,"y":0.212},{"panel":"S1","series":"Chen","seg":1,"x":146,"y":0.191},{"panel":"S1","series":"Chen","seg":1,"x":152.2,"y":0.175},{"panel":"S1","series":"Chen","seg":1,"x":158,"y":0.162},{"panel":"S1","series":"Chen","seg":1,"x":164.3,"y":0.151},{"panel":"S1","series":"Chen","seg":1,"x":172,"y":0.141},{"panel":"S1","series":"Chen","seg":1,"x":180,"y":0.133},

      {"panel":"S15","series":"EXP","seg":1,"x":8.2,"y":0.022},{"panel":"S15","series":"EXP","seg":1,"x":10.9,"y":0.021},{"panel":"S15","series":"EXP","seg":1,"x":15.1,"y":0.022},{"panel":"S15","series":"EXP","seg":1,"x":15.9,"y":0.034},{"panel":"S15","series":"EXP","seg":1,"x":16.6,"y":0.167},{"panel":"S15","series":"EXP","seg":1,"x":17,"y":0.271},{"panel":"S15","series":"EXP","seg":1,"x":17.9,"y":0.317},{"panel":"S15","series":"EXP","seg":1,"x":18.8,"y":0.323},{"panel":"S15","series":"EXP","seg":1,"x":19.7,"y":0.304},{"panel":"S15","series":"EXP","seg":1,"x":20.8,"y":0.263},{"panel":"S15","series":"EXP","seg":1,"x":22.4,"y":0.221},{"panel":"S15","series":"EXP","seg":1,"x":24.7,"y":0.192},{"panel":"S15","series":"EXP","seg":1,"x":27.7,"y":0.171},{"panel":"S15","series":"EXP","seg":1,"x":31.4,"y":0.159},{"panel":"S15","series":"EXP","seg":1,"x":34,"y":0.15},{"panel":"S15","series":"EXP","seg":1,"x":35,"y":0.146},{"panel":"S15","series":"EXP","seg":1,"x":35.6,"y":0.209},{"panel":"S15","series":"EXP","seg":1,"x":36.2,"y":0.333},{"panel":"S15","series":"EXP","seg":1,"x":37.2,"y":0.391},{"panel":"S15","series":"EXP","seg":1,"x":38.6,"y":0.406},{"panel":"S15","series":"EXP","seg":1,"x":39.8,"y":0.391},{"panel":"S15","series":"EXP","seg":1,"x":41.6,"y":0.342},{"panel":"S15","series":"EXP","seg":1,"x":43.4,"y":0.308},{"panel":"S15","series":"EXP","seg":1,"x":46.4,"y":0.279},{"panel":"S15","series":"EXP","seg":1,"x":48.9,"y":0.258},{"panel":"S15","series":"EXP","seg":1,"x":51.3,"y":0.24},
      {"panel":"S15","series":"EXP","seg":2,"x":96.3,"y":0.15},{"panel":"S15","series":"EXP","seg":2,"x":98.9,"y":0.155},{"panel":"S15","series":"EXP","seg":2,"x":103.1,"y":0.143},{"panel":"S15","series":"EXP","seg":2,"x":107.4,"y":0.138},{"panel":"S15","series":"EXP","seg":2,"x":111.6,"y":0.129},{"panel":"S15","series":"EXP","seg":2,"x":112.8,"y":0.167},{"panel":"S15","series":"EXP","seg":2,"x":113.4,"y":0.25},{"panel":"S15","series":"EXP","seg":2,"x":114.6,"y":0.371},{"panel":"S15","series":"EXP","seg":2,"x":116.2,"y":0.405},{"panel":"S15","series":"EXP","seg":2,"x":117.6,"y":0.375},{"panel":"S15","series":"EXP","seg":2,"x":119.4,"y":0.342},{"panel":"S15","series":"EXP","seg":2,"x":123,"y":0.312},{"panel":"S15","series":"EXP","seg":2,"x":127.9,"y":0.283},{"panel":"S15","series":"EXP","seg":2,"x":133.9,"y":0.258},{"panel":"S15","series":"EXP","seg":2,"x":138.7,"y":0.244},{"panel":"S15","series":"EXP","seg":2,"x":143.6,"y":0.238},{"panel":"S15","series":"EXP","seg":2,"x":149.6,"y":0.221},{"panel":"S15","series":"EXP","seg":2,"x":156.8,"y":0.206},
      {"panel":"S15","series":"Colban","seg":1,"x":0,"y":0},{"panel":"S15","series":"Colban","seg":1,"x":19.1,"y":0},{"panel":"S15","series":"Colban","seg":1,"x":19.5,"y":0.27},{"panel":"S15","series":"Colban","seg":1,"x":19.8,"y":0.264},{"panel":"S15","series":"Colban","seg":1,"x":22,"y":0.245},{"panel":"S15","series":"Colban","seg":1,"x":25.3,"y":0.221},{"panel":"S15","series":"Colban","seg":1,"x":28,"y":0.205},{"panel":"S15","series":"Colban","seg":1,"x":31.4,"y":0.188},{"panel":"S15","series":"Colban","seg":1,"x":35,"y":0.168},{"panel":"S15","series":"Colban","seg":1,"x":39.5,"y":0.1455},{"panel":"S15","series":"Colban","seg":1,"x":39.8,"y":0.144},{"panel":"S15","series":"Colban","seg":1,"x":40.7,"y":0.405},{"panel":"S15","series":"Colban","seg":1,"x":41,"y":0.399},{"panel":"S15","series":"Colban","seg":1,"x":43,"y":0.378},{"panel":"S15","series":"Colban","seg":1,"x":45.8,"y":0.352},{"panel":"S15","series":"Colban","seg":1,"x":50,"y":0.31},{"panel":"S15","series":"Colban","seg":1,"x":55.5,"y":0.269},{"panel":"S15","series":"Colban","seg":1,"x":61,"y":0.238},{"panel":"S15","series":"Colban","seg":1,"x":67.6,"y":0.211},{"panel":"S15","series":"Colban","seg":1,"x":73.5,"y":0.192},{"panel":"S15","series":"Colban","seg":1,"x":79.6,"y":0.177},{"panel":"S15","series":"Colban","seg":1,"x":85.6,"y":0.166},{"panel":"S15","series":"Colban","seg":1,"x":91.7,"y":0.157},{"panel":"S15","series":"Colban","seg":1,"x":97.7,"y":0.15},{"panel":"S15","series":"Colban","seg":1,"x":103.7,"y":0.144},{"panel":"S15","series":"Colban","seg":1,"x":110,"y":0.14},{"panel":"S15","series":"Colban","seg":1,"x":117,"y":0.1362},{"panel":"S15","series":"Colban","seg":1,"x":117.3,"y":0.136},{"panel":"S15","series":"Colban","seg":1,"x":118,"y":0.437},{"panel":"S15","series":"Colban","seg":1,"x":118.3,"y":0.424},{"panel":"S15","series":"Colban","seg":1,"x":119.5,"y":0.4},{"panel":"S15","series":"Colban","seg":1,"x":121.8,"y":0.366},{"panel":"S15","series":"Colban","seg":1,"x":125,"y":0.333},{"panel":"S15","series":"Colban","seg":1,"x":127.9,"y":0.304},{"panel":"S15","series":"Colban","seg":1,"x":134,"y":0.275},{"panel":"S15","series":"Colban","seg":1,"x":140,"y":0.25},{"panel":"S15","series":"Colban","seg":1,"x":146,"y":0.231},{"panel":"S15","series":"Colban","seg":1,"x":152,"y":0.215},{"panel":"S15","series":"Colban","seg":1,"x":159.6,"y":0.202},
      {"panel":"S15","series":"Chen","seg":1,"x":0,"y":0},{"panel":"S15","series":"Chen","seg":1,"x":19.1,"y":0},{"panel":"S15","series":"Chen","seg":1,"x":19.5,"y":0.28},{"panel":"S15","series":"Chen","seg":1,"x":19.8,"y":0.273},{"panel":"S15","series":"Chen","seg":1,"x":22,"y":0.25},{"panel":"S15","series":"Chen","seg":1,"x":25.3,"y":0.225},{"panel":"S15","series":"Chen","seg":1,"x":28,"y":0.207},{"panel":"S15","series":"Chen","seg":1,"x":31.4,"y":0.19},{"panel":"S15","series":"Chen","seg":1,"x":35,"y":0.17},{"panel":"S15","series":"Chen","seg":1,"x":39.5,"y":0.1456},{"panel":"S15","series":"Chen","seg":1,"x":39.8,"y":0.144},{"panel":"S15","series":"Chen","seg":1,"x":40.7,"y":0.409},{"panel":"S15","series":"Chen","seg":1,"x":41,"y":0.402},{"panel":"S15","series":"Chen","seg":1,"x":43,"y":0.38},{"panel":"S15","series":"Chen","seg":1,"x":45.8,"y":0.354},{"panel":"S15","series":"Chen","seg":1,"x":50,"y":0.31},{"panel":"S15","series":"Chen","seg":1,"x":55.5,"y":0.267},{"panel":"S15","series":"Chen","seg":1,"x":61,"y":0.236},{"panel":"S15","series":"Chen","seg":1,"x":67.6,"y":0.209},{"panel":"S15","series":"Chen","seg":1,"x":73.5,"y":0.19},{"panel":"S15","series":"Chen","seg":1,"x":79.6,"y":0.175},{"panel":"S15","series":"Chen","seg":1,"x":85.6,"y":0.164},{"panel":"S15","series":"Chen","seg":1,"x":91.7,"y":0.155},{"panel":"S15","series":"Chen","seg":1,"x":97.7,"y":0.147},{"panel":"S15","series":"Chen","seg":1,"x":103.7,"y":0.141},{"panel":"S15","series":"Chen","seg":1,"x":110,"y":0.135},{"panel":"S15","series":"Chen","seg":1,"x":117,"y":0.1302},{"panel":"S15","series":"Chen","seg":1,"x":117.3,"y":0.13},{"panel":"S15","series":"Chen","seg":1,"x":118,"y":0.456},{"panel":"S15","series":"Chen","seg":1,"x":118.3,"y":0.44},{"panel":"S15","series":"Chen","seg":1,"x":119.5,"y":0.41},{"panel":"S15","series":"Chen","seg":1,"x":121.8,"y":0.366},{"panel":"S15","series":"Chen","seg":1,"x":125,"y":0.33},{"panel":"S15","series":"Chen","seg":1,"x":127.9,"y":0.3},{"panel":"S15","series":"Chen","seg":1,"x":134,"y":0.268},{"panel":"S15","series":"Chen","seg":1,"x":140,"y":0.242},{"panel":"S15","series":"Chen","seg":1,"x":146,"y":0.224},{"panel":"S15","series":"Chen","seg":1,"x":152,"y":0.209},{"panel":"S15","series":"Chen","seg":1,"x":158,"y":0.197},{"panel":"S15","series":"Chen","seg":1,"x":164.1,"y":0.186},{"panel":"S15","series":"Chen","seg":1,"x":172,"y":0.175},{"panel":"S15","series":"Chen","seg":1,"x":180,"y":0.165},

      {"panel":"S2","series":"EXP","seg":1,"x":8.1,"y":0.025},{"panel":"S2","series":"EXP","seg":1,"x":11.1,"y":0.024},{"panel":"S2","series":"EXP","seg":1,"x":15.4,"y":0.024},{"panel":"S2","series":"EXP","seg":1,"x":16,"y":0.083},{"panel":"S2","series":"EXP","seg":1,"x":16.7,"y":0.228},{"panel":"S2","series":"EXP","seg":1,"x":17.6,"y":0.298},{"panel":"S2","series":"EXP","seg":1,"x":18.4,"y":0.311},{"panel":"S2","series":"EXP","seg":1,"x":19.2,"y":0.294},{"panel":"S2","series":"EXP","seg":1,"x":20.2,"y":0.249},{"panel":"S2","series":"EXP","seg":1,"x":21.8,"y":0.211},{"panel":"S2","series":"EXP","seg":1,"x":23.8,"y":0.195},{"panel":"S2","series":"EXP","seg":1,"x":26.9,"y":0.186},{"panel":"S2","series":"EXP","seg":1,"x":30.5,"y":0.178},{"panel":"S2","series":"EXP","seg":1,"x":34.7,"y":0.174},{"panel":"S2","series":"EXP","seg":1,"x":35.6,"y":0.182},{"panel":"S2","series":"EXP","seg":1,"x":36.2,"y":0.29},{"panel":"S2","series":"EXP","seg":1,"x":37.2,"y":0.381},{"panel":"S2","series":"EXP","seg":1,"x":38.4,"y":0.402},{"panel":"S2","series":"EXP","seg":1,"x":39.3,"y":0.398},{"panel":"S2","series":"EXP","seg":1,"x":40.8,"y":0.365},{"panel":"S2","series":"EXP","seg":1,"x":42.6,"y":0.348},{"panel":"S2","series":"EXP","seg":1,"x":45,"y":0.329},{"panel":"S2","series":"EXP","seg":1,"x":47.5,"y":0.307},{"panel":"S2","series":"EXP","seg":1,"x":51.1,"y":0.274},
      {"panel":"S2","series":"EXP","seg":2,"x":96.5,"y":0.176},{"panel":"S2","series":"EXP","seg":2,"x":99.5,"y":0.176},{"panel":"S2","series":"EXP","seg":2,"x":101.9,"y":0.166},{"panel":"S2","series":"EXP","seg":2,"x":105.6,"y":0.162},{"panel":"S2","series":"EXP","seg":2,"x":109.2,"y":0.155},{"panel":"S2","series":"EXP","seg":2,"x":111.9,"y":0.149},{"panel":"S2","series":"EXP","seg":2,"x":112.8,"y":0.166},{"panel":"S2","series":"EXP","seg":2,"x":113.8,"y":0.29},{"panel":"S2","series":"EXP","seg":2,"x":114.6,"y":0.369},{"panel":"S2","series":"EXP","seg":2,"x":115.9,"y":0.39},{"panel":"S2","series":"EXP","seg":2,"x":117.1,"y":0.369},{"panel":"S2","series":"EXP","seg":2,"x":118.3,"y":0.332},{"panel":"S2","series":"EXP","seg":2,"x":120.1,"y":0.307},{"panel":"S2","series":"EXP","seg":2,"x":123.7,"y":0.294},{"panel":"S2","series":"EXP","seg":2,"x":127.4,"y":0.284},{"panel":"S2","series":"EXP","seg":2,"x":133.4,"y":0.271},{"panel":"S2","series":"EXP","seg":2,"x":137.1,"y":0.261},{"panel":"S2","series":"EXP","seg":2,"x":139.5,"y":0.255},{"panel":"S2","series":"EXP","seg":2,"x":144.3,"y":0.247},{"panel":"S2","series":"EXP","seg":2,"x":149.2,"y":0.238},{"panel":"S2","series":"EXP","seg":2,"x":152.8,"y":0.234},{"panel":"S2","series":"EXP","seg":2,"x":157,"y":0.216},
      {"panel":"S2","series":"Colban","seg":1,"x":0,"y":0},{"panel":"S2","series":"Colban","seg":1,"x":19,"y":0},{"panel":"S2","series":"Colban","seg":1,"x":19.6,"y":0.265},{"panel":"S2","series":"Colban","seg":1,"x":19.9,"y":0.262},{"panel":"S2","series":"Colban","seg":1,"x":22,"y":0.25},{"panel":"S2","series":"Colban","seg":1,"x":24.5,"y":0.238},{"panel":"S2","series":"Colban","seg":1,"x":27.5,"y":0.224},{"panel":"S2","series":"Colban","seg":1,"x":30.5,"y":0.211},{"panel":"S2","series":"Colban","seg":1,"x":35,"y":0.19},{"panel":"S2","series":"Colban","seg":1,"x":39.7,"y":0.1693},{"panel":"S2","series":"Colban","seg":1,"x":40,"y":0.168},{"panel":"S2","series":"Colban","seg":1,"x":40.4,"y":0.412},{"panel":"S2","series":"Colban","seg":1,"x":40.7,"y":0.408},{"panel":"S2","series":"Colban","seg":1,"x":42.5,"y":0.395},{"panel":"S2","series":"Colban","seg":1,"x":45,"y":0.373},{"panel":"S2","series":"Colban","seg":1,"x":50,"y":0.338},{"panel":"S2","series":"Colban","seg":1,"x":54.7,"y":0.307},{"panel":"S2","series":"Colban","seg":1,"x":60,"y":0.28},{"panel":"S2","series":"Colban","seg":1,"x":66.8,"y":0.257},{"panel":"S2","series":"Colban","seg":1,"x":72.8,"y":0.239},{"panel":"S2","series":"Colban","seg":1,"x":78.9,"y":0.224},{"panel":"S2","series":"Colban","seg":1,"x":85,"y":0.212},{"panel":"S2","series":"Colban","seg":1,"x":91,"y":0.201},{"panel":"S2","series":"Colban","seg":1,"x":97,"y":0.193},{"panel":"S2","series":"Colban","seg":1,"x":103.1,"y":0.186},{"panel":"S2","series":"Colban","seg":1,"x":110,"y":0.177},{"panel":"S2","series":"Colban","seg":1,"x":116.4,"y":0.1684},{"panel":"S2","series":"Colban","seg":1,"x":116.7,"y":0.168},{"panel":"S2","series":"Colban","seg":1,"x":118,"y":0.47},{"panel":"S2","series":"Colban","seg":1,"x":118.3,"y":0.459},{"panel":"S2","series":"Colban","seg":1,"x":119.5,"y":0.44},{"panel":"S2","series":"Colban","seg":1,"x":121.3,"y":0.412},{"panel":"S2","series":"Colban","seg":1,"x":124,"y":0.383},{"panel":"S2","series":"Colban","seg":1,"x":127.4,"y":0.361},{"panel":"S2","series":"Colban","seg":1,"x":133,"y":0.332},{"panel":"S2","series":"Colban","seg":1,"x":139.5,"y":0.307},{"panel":"S2","series":"Colban","seg":1,"x":145,"y":0.29},{"panel":"S2","series":"Colban","seg":1,"x":151.6,"y":0.274},{"panel":"S2","series":"Colban","seg":1,"x":160,"y":0.253},
      {"panel":"S2","series":"Chen","seg":1,"x":0,"y":0},{"panel":"S2","series":"Chen","seg":1,"x":19,"y":0},{"panel":"S2","series":"Chen","seg":1,"x":19.6,"y":0.274},{"panel":"S2","series":"Chen","seg":1,"x":19.9,"y":0.269},{"panel":"S2","series":"Chen","seg":1,"x":22,"y":0.253},{"panel":"S2","series":"Chen","seg":1,"x":24.5,"y":0.236},{"panel":"S2","series":"Chen","seg":1,"x":27.5,"y":0.221},{"panel":"S2","series":"Chen","seg":1,"x":30.5,"y":0.207},{"panel":"S2","series":"Chen","seg":1,"x":35,"y":0.186},{"panel":"S2","series":"Chen","seg":1,"x":39.7,"y":0.1634},{"panel":"S2","series":"Chen","seg":1,"x":40,"y":0.162},{"panel":"S2","series":"Chen","seg":1,"x":40.4,"y":0.414},{"panel":"S2","series":"Chen","seg":1,"x":40.7,"y":0.408},{"panel":"S2","series":"Chen","seg":1,"x":42.5,"y":0.39},{"panel":"S2","series":"Chen","seg":1,"x":45,"y":0.365},{"panel":"S2","series":"Chen","seg":1,"x":50,"y":0.325},{"panel":"S2","series":"Chen","seg":1,"x":54.7,"y":0.29},{"panel":"S2","series":"Chen","seg":1,"x":60,"y":0.265},{"panel":"S2","series":"Chen","seg":1,"x":66.8,"y":0.24},{"panel":"S2","series":"Chen","seg":1,"x":72.8,"y":0.223},{"panel":"S2","series":"Chen","seg":1,"x":78.9,"y":0.209},{"panel":"S2","series":"Chen","seg":1,"x":85,"y":0.197},{"panel":"S2","series":"Chen","seg":1,"x":91,"y":0.186},{"panel":"S2","series":"Chen","seg":1,"x":97,"y":0.178},{"panel":"S2","series":"Chen","seg":1,"x":103.1,"y":0.17},{"panel":"S2","series":"Chen","seg":1,"x":110,"y":0.161},{"panel":"S2","series":"Chen","seg":1,"x":117.1,"y":0.1533},{"panel":"S2","series":"Chen","seg":1,"x":117.4,"y":0.153},{"panel":"S2","series":"Chen","seg":1,"x":118,"y":0.466},{"panel":"S2","series":"Chen","seg":1,"x":118.3,"y":0.453},{"panel":"S2","series":"Chen","seg":1,"x":119.5,"y":0.43},{"panel":"S2","series":"Chen","seg":1,"x":121.3,"y":0.396},{"panel":"S2","series":"Chen","seg":1,"x":124,"y":0.36},{"panel":"S2","series":"Chen","seg":1,"x":127.4,"y":0.332},{"panel":"S2","series":"Chen","seg":1,"x":133,"y":0.297},{"panel":"S2","series":"Chen","seg":1,"x":139.5,"y":0.267},{"panel":"S2","series":"Chen","seg":1,"x":145,"y":0.25},{"panel":"S2","series":"Chen","seg":1,"x":151.6,"y":0.236},{"panel":"S2","series":"Chen","seg":1,"x":157.5,"y":0.226},{"panel":"S2","series":"Chen","seg":1,"x":163.7,"y":0.218},{"panel":"S2","series":"Chen","seg":1,"x":172,"y":0.208},{"panel":"S2","series":"Chen","seg":1,"x":180,"y":0.199},

      {"panel":"S25","series":"EXP","seg":1,"x":8.1,"y":0.025},{"panel":"S25","series":"EXP","seg":1,"x":12.2,"y":0.023},{"panel":"S25","series":"EXP","seg":1,"x":15.2,"y":0.024},{"panel":"S25","series":"EXP","seg":1,"x":15.8,"y":0.061},{"panel":"S25","series":"EXP","seg":1,"x":16.4,"y":0.207},{"panel":"S25","series":"EXP","seg":1,"x":17.2,"y":0.294},{"panel":"S25","series":"EXP","seg":1,"x":18.2,"y":0.303},{"panel":"S25","series":"EXP","seg":1,"x":19,"y":0.284},{"panel":"S25","series":"EXP","seg":1,"x":20,"y":0.25},{"panel":"S25","series":"EXP","seg":1,"x":21.7,"y":0.221},{"panel":"S25","series":"EXP","seg":1,"x":24.1,"y":0.204},{"panel":"S25","series":"EXP","seg":1,"x":27.7,"y":0.199},{"panel":"S25","series":"EXP","seg":1,"x":31.2,"y":0.194},{"panel":"S25","series":"EXP","seg":1,"x":34.8,"y":0.188},{"panel":"S25","series":"EXP","seg":1,"x":35.5,"y":0.197},{"panel":"S25","series":"EXP","seg":1,"x":36,"y":0.328},{"panel":"S25","series":"EXP","seg":1,"x":36.8,"y":0.386},{"panel":"S25","series":"EXP","seg":1,"x":38,"y":0.404},{"panel":"S25","series":"EXP","seg":1,"x":39.2,"y":0.403},{"panel":"S25","series":"EXP","seg":1,"x":40.4,"y":0.376},{"panel":"S25","series":"EXP","seg":1,"x":41.9,"y":0.357},{"panel":"S25","series":"EXP","seg":1,"x":44.3,"y":0.337},{"panel":"S25","series":"EXP","seg":1,"x":47.3,"y":0.323},{"panel":"S25","series":"EXP","seg":1,"x":49.6,"y":0.303},{"panel":"S25","series":"EXP","seg":1,"x":51.4,"y":0.289},
      {"panel":"S25","series":"EXP","seg":2,"x":96.3,"y":0.19},{"panel":"S25","series":"EXP","seg":2,"x":98.9,"y":0.188},{"panel":"S25","series":"EXP","seg":2,"x":101.3,"y":0.18},{"panel":"S25","series":"EXP","seg":2,"x":104.9,"y":0.177},{"panel":"S25","series":"EXP","seg":2,"x":108.4,"y":0.173},{"panel":"S25","series":"EXP","seg":2,"x":111.8,"y":0.163},{"panel":"S25","series":"EXP","seg":2,"x":112.6,"y":0.182},{"panel":"S25","series":"EXP","seg":2,"x":113.4,"y":0.279},{"panel":"S25","series":"EXP","seg":2,"x":114.4,"y":0.366},{"panel":"S25","series":"EXP","seg":2,"x":115.9,"y":0.382},{"panel":"S25","series":"EXP","seg":2,"x":117,"y":0.366},{"panel":"S25","series":"EXP","seg":2,"x":118.5,"y":0.328},{"panel":"S25","series":"EXP","seg":2,"x":120.3,"y":0.303},{"panel":"S25","series":"EXP","seg":2,"x":123.9,"y":0.279},{"panel":"S25","series":"EXP","seg":2,"x":127.4,"y":0.265},{"panel":"S25","series":"EXP","seg":2,"x":132.2,"y":0.257},{"panel":"S25","series":"EXP","seg":2,"x":136.9,"y":0.25},{"panel":"S25","series":"EXP","seg":2,"x":141.7,"y":0.243},{"panel":"S25","series":"EXP","seg":2,"x":146.4,"y":0.236},{"panel":"S25","series":"EXP","seg":2,"x":151.2,"y":0.233},{"panel":"S25","series":"EXP","seg":2,"x":153.6,"y":0.231},{"panel":"S25","series":"EXP","seg":2,"x":157.1,"y":0.216},
      {"panel":"S25","series":"Colban","seg":1,"x":0,"y":0},{"panel":"S25","series":"Colban","seg":1,"x":19.1,"y":0},{"panel":"S25","series":"Colban","seg":1,"x":19.6,"y":0.262},{"panel":"S25","series":"Colban","seg":1,"x":19.9,"y":0.259},{"panel":"S25","series":"Colban","seg":1,"x":22,"y":0.25},{"panel":"S25","series":"Colban","seg":1,"x":26.5,"y":0.236},{"panel":"S25","series":"Colban","seg":1,"x":30,"y":0.224},{"panel":"S25","series":"Colban","seg":1,"x":32.4,"y":0.214},{"panel":"S25","series":"Colban","seg":1,"x":36,"y":0.2},{"panel":"S25","series":"Colban","seg":1,"x":39.2,"y":0.188},{"panel":"S25","series":"Colban","seg":1,"x":39.5,"y":0.187},{"panel":"S25","series":"Colban","seg":1,"x":40.5,"y":0.428},{"panel":"S25","series":"Colban","seg":1,"x":40.8,"y":0.424},{"panel":"S25","series":"Colban","seg":1,"x":43,"y":0.41},{"panel":"S25","series":"Colban","seg":1,"x":46.7,"y":0.386},{"panel":"S25","series":"Colban","seg":1,"x":51,"y":0.36},{"panel":"S25","series":"Colban","seg":1,"x":56.2,"y":0.337},{"panel":"S25","series":"Colban","seg":1,"x":62,"y":0.312},{"panel":"S25","series":"Colban","seg":1,"x":68.1,"y":0.289},{"panel":"S25","series":"Colban","seg":1,"x":74,"y":0.272},{"panel":"S25","series":"Colban","seg":1,"x":79.9,"y":0.256},{"panel":"S25","series":"Colban","seg":1,"x":85.8,"y":0.243},{"panel":"S25","series":"Colban","seg":1,"x":91.8,"y":0.231},{"panel":"S25","series":"Colban","seg":1,"x":97.7,"y":0.221},{"panel":"S25","series":"Colban","seg":1,"x":103.7,"y":0.211},{"panel":"S25","series":"Colban","seg":1,"x":110,"y":0.203},{"panel":"S25","series":"Colban","seg":1,"x":116.7,"y":0.1963},{"panel":"S25","series":"Colban","seg":1,"x":117,"y":0.196},{"panel":"S25","series":"Colban","seg":1,"x":118.2,"y":0.49},{"panel":"S25","series":"Colban","seg":1,"x":118.5,"y":0.482},{"panel":"S25","series":"Colban","seg":1,"x":119.5,"y":0.47},{"panel":"S25","series":"Colban","seg":1,"x":121.5,"y":0.451},{"panel":"S25","series":"Colban","seg":1,"x":124,"y":0.425},{"panel":"S25","series":"Colban","seg":1,"x":127.4,"y":0.4},{"panel":"S25","series":"Colban","seg":1,"x":133,"y":0.37},{"panel":"S25","series":"Colban","seg":1,"x":139.3,"y":0.344},{"panel":"S25","series":"Colban","seg":1,"x":145,"y":0.33},{"panel":"S25","series":"Colban","seg":1,"x":151.2,"y":0.315},{"panel":"S25","series":"Colban","seg":1,"x":160.1,"y":0.291},
      {"panel":"S25","series":"Chen","seg":1,"x":0,"y":0},{"panel":"S25","series":"Chen","seg":1,"x":19.1,"y":0},{"panel":"S25","series":"Chen","seg":1,"x":19.6,"y":0.27},{"panel":"S25","series":"Chen","seg":1,"x":19.9,"y":0.265},{"panel":"S25","series":"Chen","seg":1,"x":22,"y":0.25},{"panel":"S25","series":"Chen","seg":1,"x":26.5,"y":0.228},{"panel":"S25","series":"Chen","seg":1,"x":29.5,"y":0.217},{"panel":"S25","series":"Chen","seg":1,"x":32.4,"y":0.207},{"panel":"S25","series":"Chen","seg":1,"x":36,"y":0.19},{"panel":"S25","series":"Chen","seg":1,"x":39.8,"y":0.1715},{"panel":"S25","series":"Chen","seg":1,"x":40.1,"y":0.17},{"panel":"S25","series":"Chen","seg":1,"x":40.5,"y":0.418},{"panel":"S25","series":"Chen","seg":1,"x":40.8,"y":0.413},{"panel":"S25","series":"Chen","seg":1,"x":43,"y":0.395},{"panel":"S25","series":"Chen","seg":1,"x":46.7,"y":0.371},{"panel":"S25","series":"Chen","seg":1,"x":51,"y":0.34},{"panel":"S25","series":"Chen","seg":1,"x":56.2,"y":0.308},{"panel":"S25","series":"Chen","seg":1,"x":62,"y":0.283},{"panel":"S25","series":"Chen","seg":1,"x":68.1,"y":0.262},{"panel":"S25","series":"Chen","seg":1,"x":74,"y":0.247},{"panel":"S25","series":"Chen","seg":1,"x":79.9,"y":0.233},{"panel":"S25","series":"Chen","seg":1,"x":85.8,"y":0.221},{"panel":"S25","series":"Chen","seg":1,"x":91.8,"y":0.211},{"panel":"S25","series":"Chen","seg":1,"x":97.7,"y":0.202},{"panel":"S25","series":"Chen","seg":1,"x":103.7,"y":0.194},{"panel":"S25","series":"Chen","seg":1,"x":110,"y":0.185},{"panel":"S25","series":"Chen","seg":1,"x":117.3,"y":0.1744},{"panel":"S25","series":"Chen","seg":1,"x":117.6,"y":0.174},{"panel":"S25","series":"Chen","seg":1,"x":118.2,"y":0.47},{"panel":"S25","series":"Chen","seg":1,"x":118.5,"y":0.458},{"panel":"S25","series":"Chen","seg":1,"x":119.5,"y":0.44},{"panel":"S25","series":"Chen","seg":1,"x":121.5,"y":0.4},{"panel":"S25","series":"Chen","seg":1,"x":124,"y":0.375},{"panel":"S25","series":"Chen","seg":1,"x":127.4,"y":0.352},{"panel":"S25","series":"Chen","seg":1,"x":133,"y":0.325},{"panel":"S25","series":"Chen","seg":1,"x":139.3,"y":0.303},{"panel":"S25","series":"Chen","seg":1,"x":145,"y":0.288},{"panel":"S25","series":"Chen","seg":1,"x":151.2,"y":0.274},{"panel":"S25","series":"Chen","seg":1,"x":157,"y":0.263},{"panel":"S25","series":"Chen","seg":1,"x":163.1,"y":0.253},{"panel":"S25","series":"Chen","seg":1,"x":172,"y":0.238},{"panel":"S25","series":"Chen","seg":1,"x":180,"y":0.225},

      {"panel":"F1","series":"EXP","seg":1,"x":0,"y":0.304},{"panel":"F1","series":"EXP","seg":1,"x":0.8,"y":0.33},{"panel":"F1","series":"EXP","seg":1,"x":1.8,"y":0.341},{"panel":"F1","series":"EXP","seg":1,"x":2.5,"y":0.325},{"panel":"F1","series":"EXP","seg":1,"x":3.3,"y":0.283},{"panel":"F1","series":"EXP","seg":1,"x":4.8,"y":0.23},{"panel":"F1","series":"EXP","seg":1,"x":6.2,"y":0.188},{"panel":"F1","series":"EXP","seg":1,"x":8.2,"y":0.156},{"panel":"F1","series":"EXP","seg":1,"x":11.2,"y":0.124},{"panel":"F1","series":"EXP","seg":1,"x":14.2,"y":0.106},{"panel":"F1","series":"EXP","seg":1,"x":16.7,"y":0.095},{"panel":"F1","series":"EXP","seg":1,"x":17.6,"y":0.098},{"panel":"F1","series":"EXP","seg":1,"x":18.1,"y":0.167},{"panel":"F1","series":"EXP","seg":1,"x":18.6,"y":0.325},{"panel":"F1","series":"EXP","seg":1,"x":19.6,"y":0.388},{"panel":"F1","series":"EXP","seg":1,"x":21.3,"y":0.409},{"panel":"F1","series":"EXP","seg":1,"x":22.3,"y":0.399},{"panel":"F1","series":"EXP","seg":1,"x":23.1,"y":0.346},{"panel":"F1","series":"EXP","seg":1,"x":25.1,"y":0.283},{"panel":"F1","series":"EXP","seg":1,"x":28,"y":0.23},{"panel":"F1","series":"EXP","seg":1,"x":33,"y":0.18},{"panel":"F1","series":"EXP","seg":1,"x":37.5,"y":0.135},{"panel":"F1","series":"EXP","seg":1,"x":38,"y":0.167},{"panel":"F1","series":"EXP","seg":1,"x":38.5,"y":0.351},{"panel":"F1","series":"EXP","seg":1,"x":39.4,"y":0.399},{"panel":"F1","series":"EXP","seg":1,"x":41.4,"y":0.414},{"panel":"F1","series":"EXP","seg":1,"x":42.4,"y":0.388},{"panel":"F1","series":"EXP","seg":1,"x":43.9,"y":0.314},{"panel":"F1","series":"EXP","seg":1,"x":46.9,"y":0.256},{"panel":"F1","series":"EXP","seg":1,"x":50.8,"y":0.214},{"panel":"F1","series":"EXP","seg":1,"x":54.8,"y":0.182},{"panel":"F1","series":"EXP","seg":1,"x":57.8,"y":0.167},{"panel":"F1","series":"EXP","seg":1,"x":58.3,"y":0.325},{"panel":"F1","series":"EXP","seg":1,"x":59.3,"y":0.409},{"panel":"F1","series":"EXP","seg":1,"x":61.2,"y":0.442},{"panel":"F1","series":"EXP","seg":1,"x":62.2,"y":0.43},{"panel":"F1","series":"EXP","seg":1,"x":63.2,"y":0.367},{"panel":"F1","series":"EXP","seg":1,"x":65.7,"y":0.309},{"panel":"F1","series":"EXP","seg":1,"x":69.7,"y":0.261},{"panel":"F1","series":"EXP","seg":1,"x":74.6,"y":0.225},{"panel":"F1","series":"EXP","seg":1,"x":77.6,"y":0.196},{"panel":"F1","series":"EXP","seg":1,"x":78.4,"y":0.219},{"panel":"F1","series":"EXP","seg":1,"x":79.1,"y":0.409},{"panel":"F1","series":"EXP","seg":1,"x":80.1,"y":0.443},{"panel":"F1","series":"EXP","seg":1,"x":81.6,"y":0.457},{"panel":"F1","series":"EXP","seg":1,"x":82.6,"y":0.441},{"panel":"F1","series":"EXP","seg":1,"x":84,"y":0.377},{"panel":"F1","series":"EXP","seg":1,"x":87.5,"y":0.309},{"panel":"F1","series":"EXP","seg":1,"x":92.5,"y":0.261},{"panel":"F1","series":"EXP","seg":1,"x":99.9,"y":0.198},{"panel":"F1","series":"EXP","seg":1,"x":107.3,"y":0.167},{"panel":"F1","series":"EXP","seg":1,"x":117.2,"y":0.14},{"panel":"F1","series":"EXP","seg":1,"x":127.2,"y":0.124},{"panel":"F1","series":"EXP","seg":1,"x":140,"y":0.109},
      {"panel":"F1","series":"Colban","seg":1,"x":0,"y":0},{"panel":"F1","series":"Colban","seg":1,"x":2,"y":0},{"panel":"F1","series":"Colban","seg":1,"x":2.3,"y":0.325},{"panel":"F1","series":"Colban","seg":1,"x":2.45,"y":0.314},{"panel":"F1","series":"Colban","seg":1,"x":3.3,"y":0.285},{"panel":"F1","series":"Colban","seg":1,"x":5.3,"y":0.228},{"panel":"F1","series":"Colban","seg":1,"x":8.2,"y":0.173},{"panel":"F1","series":"Colban","seg":1,"x":13.2,"y":0.125},{"panel":"F1","series":"Colban","seg":1,"x":18.1,"y":0.103},{"panel":"F1","series":"Colban","seg":1,"x":21.7,"y":0.0935},{"panel":"F1","series":"Colban","seg":1,"x":21.9,"y":0.093},{"panel":"F1","series":"Colban","seg":1,"x":22.3,"y":0.385},{"panel":"F1","series":"Colban","seg":1,"x":22.45,"y":0.375},{"panel":"F1","series":"Colban","seg":1,"x":23.1,"y":0.355},{"panel":"F1","series":"Colban","seg":1,"x":25.1,"y":0.305},{"panel":"F1","series":"Colban","seg":1,"x":28,"y":0.26},{"panel":"F1","series":"Colban","seg":1,"x":33,"y":0.208},{"panel":"F1","series":"Colban","seg":1,"x":38,"y":0.175},{"panel":"F1","series":"Colban","seg":1,"x":41.5,"y":0.153},{"panel":"F1","series":"Colban","seg":1,"x":41.7,"y":0.152},{"panel":"F1","series":"Colban","seg":1,"x":42.1,"y":0.432},{"panel":"F1","series":"Colban","seg":1,"x":42.25,"y":0.42},{"panel":"F1","series":"Colban","seg":1,"x":42.9,"y":0.395},{"panel":"F1","series":"Colban","seg":1,"x":44.9,"y":0.345},{"panel":"F1","series":"Colban","seg":1,"x":47.9,"y":0.305},{"panel":"F1","series":"Colban","seg":1,"x":52.8,"y":0.255},{"panel":"F1","series":"Colban","seg":1,"x":57.8,"y":0.218},{"panel":"F1","series":"Colban","seg":1,"x":61.5,"y":0.1876},{"panel":"F1","series":"Colban","seg":1,"x":61.7,"y":0.186},{"panel":"F1","series":"Colban","seg":1,"x":62.1,"y":0.455},{"panel":"F1","series":"Colban","seg":1,"x":62.22,"y":0.443},{"panel":"F1","series":"Colban","seg":1,"x":62.7,"y":0.422},{"panel":"F1","series":"Colban","seg":1,"x":64.7,"y":0.367},{"panel":"F1","series":"Colban","seg":1,"x":67.7,"y":0.325},{"panel":"F1","series":"Colban","seg":1,"x":72.6,"y":0.277},{"panel":"F1","series":"Colban","seg":1,"x":77.6,"y":0.241},{"panel":"F1","series":"Colban","seg":1,"x":81.6,"y":0.2153},{"panel":"F1","series":"Colban","seg":1,"x":81.8,"y":0.214},{"panel":"F1","series":"Colban","seg":1,"x":82.3,"y":0.465},{"panel":"F1","series":"Colban","seg":1,"x":82.45,"y":0.454},{"panel":"F1","series":"Colban","seg":1,"x":83.1,"y":0.432},{"panel":"F1","series":"Colban","seg":1,"x":85.5,"y":0.378},{"panel":"F1","series":"Colban","seg":1,"x":89.5,"y":0.328},{"panel":"F1","series":"Colban","seg":1,"x":92.5,"y":0.298},{"panel":"F1","series":"Colban","seg":1,"x":99.9,"y":0.241},{"panel":"F1","series":"Colban","seg":1,"x":107.3,"y":0.204},{"panel":"F1","series":"Colban","seg":1,"x":117.2,"y":0.175},{"panel":"F1","series":"Colban","seg":1,"x":127.2,"y":0.161},{"panel":"F1","series":"Colban","seg":1,"x":140,"y":0.146},
      {"panel":"F1","series":"Chen","seg":1,"x":0,"y":0},{"panel":"F1","series":"Chen","seg":1,"x":2,"y":0},{"panel":"F1","series":"Chen","seg":1,"x":2.3,"y":0.346},{"panel":"F1","series":"Chen","seg":1,"x":2.45,"y":0.333},{"panel":"F1","series":"Chen","seg":1,"x":3.3,"y":0.298},{"panel":"F1","series":"Chen","seg":1,"x":5.3,"y":0.24},{"panel":"F1","series":"Chen","seg":1,"x":8.2,"y":0.182},{"panel":"F1","series":"Chen","seg":1,"x":10.7,"y":0.152},{"panel":"F1","series":"Chen","seg":1,"x":13.2,"y":0.13},{"panel":"F1","series":"Chen","seg":1,"x":15.7,"y":0.116},{"panel":"F1","series":"Chen","seg":1,"x":18.1,"y":0.106},{"panel":"F1","series":"Chen","seg":1,"x":21.7,"y":0.0956},{"panel":"F1","series":"Chen","seg":1,"x":21.9,"y":0.095},{"panel":"F1","series":"Chen","seg":1,"x":22.3,"y":0.401},{"panel":"F1","series":"Chen","seg":1,"x":22.45,"y":0.39},{"panel":"F1","series":"Chen","seg":1,"x":23.1,"y":0.367},{"panel":"F1","series":"Chen","seg":1,"x":25.1,"y":0.314},{"panel":"F1","series":"Chen","seg":1,"x":28,"y":0.267},{"panel":"F1","series":"Chen","seg":1,"x":30.5,"y":0.238},{"panel":"F1","series":"Chen","seg":1,"x":33,"y":0.214},{"panel":"F1","series":"Chen","seg":1,"x":35.5,"y":0.196},{"panel":"F1","series":"Chen","seg":1,"x":38,"y":0.18},{"panel":"F1","series":"Chen","seg":1,"x":41.5,"y":0.1573},{"panel":"F1","series":"Chen","seg":1,"x":41.7,"y":0.156},{"panel":"F1","series":"Chen","seg":1,"x":42.1,"y":0.452},{"panel":"F1","series":"Chen","seg":1,"x":42.25,"y":0.438},{"panel":"F1","series":"Chen","seg":1,"x":42.9,"y":0.409},{"panel":"F1","series":"Chen","seg":1,"x":44.9,"y":0.356},{"panel":"F1","series":"Chen","seg":1,"x":47.9,"y":0.314},{"panel":"F1","series":"Chen","seg":1,"x":52.8,"y":0.261},{"panel":"F1","series":"Chen","seg":1,"x":57.8,"y":0.222},{"panel":"F1","series":"Chen","seg":1,"x":61.5,"y":0.1916},{"panel":"F1","series":"Chen","seg":1,"x":61.7,"y":0.19},{"panel":"F1","series":"Chen","seg":1,"x":62.1,"y":0.47},{"panel":"F1","series":"Chen","seg":1,"x":62.22,"y":0.458},{"panel":"F1","series":"Chen","seg":1,"x":62.7,"y":0.435},{"panel":"F1","series":"Chen","seg":1,"x":64.7,"y":0.377},{"panel":"F1","series":"Chen","seg":1,"x":67.7,"y":0.333},{"panel":"F1","series":"Chen","seg":1,"x":72.6,"y":0.283},{"panel":"F1","series":"Chen","seg":1,"x":77.6,"y":0.246},{"panel":"F1","series":"Chen","seg":1,"x":81.6,"y":0.2203},{"panel":"F1","series":"Chen","seg":1,"x":81.8,"y":0.219},{"panel":"F1","series":"Chen","seg":1,"x":82.3,"y":0.483},{"panel":"F1","series":"Chen","seg":1,"x":82.45,"y":0.471},{"panel":"F1","series":"Chen","seg":1,"x":83.1,"y":0.446},{"panel":"F1","series":"Chen","seg":1,"x":85.5,"y":0.388},{"panel":"F1","series":"Chen","seg":1,"x":89.5,"y":0.335},{"panel":"F1","series":"Chen","seg":1,"x":92.5,"y":0.304},{"panel":"F1","series":"Chen","seg":1,"x":96,"y":0.273},{"panel":"F1","series":"Chen","seg":1,"x":99.9,"y":0.246},{"panel":"F1","series":"Chen","seg":1,"x":107.3,"y":0.209},{"panel":"F1","series":"Chen","seg":1,"x":117.2,"y":0.18},{"panel":"F1","series":"Chen","seg":1,"x":127.2,"y":0.165},{"panel":"F1","series":"Chen","seg":1,"x":140,"y":0.151},

      {"panel":"F2","series":"EXP","seg":1,"x":0,"y":0.3},{"panel":"F2","series":"EXP","seg":1,"x":0.8,"y":0.332},{"panel":"F2","series":"EXP","seg":1,"x":1.7,"y":0.343},{"panel":"F2","series":"EXP","seg":1,"x":2.7,"y":0.327},{"panel":"F2","series":"EXP","seg":1,"x":3.7,"y":0.291},{"panel":"F2","series":"EXP","seg":1,"x":5.6,"y":0.24},{"panel":"F2","series":"EXP","seg":1,"x":8.6,"y":0.199},{"panel":"F2","series":"EXP","seg":1,"x":12.4,"y":0.166},{"panel":"F2","series":"EXP","seg":1,"x":16.3,"y":0.143},{"panel":"F2","series":"EXP","seg":1,"x":17.3,"y":0.14},{"panel":"F2","series":"EXP","seg":1,"x":18,"y":0.162},{"panel":"F2","series":"EXP","seg":1,"x":18.5,"y":0.392},{"panel":"F2","series":"EXP","seg":1,"x":19.4,"y":0.428},{"panel":"F2","series":"EXP","seg":1,"x":21.2,"y":0.445},{"panel":"F2","series":"EXP","seg":1,"x":22.4,"y":0.438},{"panel":"F2","series":"EXP","seg":1,"x":23.6,"y":0.383},{"panel":"F2","series":"EXP","seg":1,"x":26,"y":0.327},{"panel":"F2","series":"EXP","seg":1,"x":29.9,"y":0.277},{"panel":"F2","series":"EXP","seg":1,"x":32.8,"y":0.245},{"panel":"F2","series":"EXP","seg":1,"x":37.2,"y":0.201},{"panel":"F2","series":"EXP","seg":1,"x":37.9,"y":0.231},{"panel":"F2","series":"EXP","seg":1,"x":38.5,"y":0.424},{"panel":"F2","series":"EXP","seg":1,"x":39.7,"y":0.454},{"panel":"F2","series":"EXP","seg":1,"x":41.4,"y":0.461},{"panel":"F2","series":"EXP","seg":1,"x":42.4,"y":0.438},{"panel":"F2","series":"EXP","seg":1,"x":44,"y":0.383},{"panel":"F2","series":"EXP","seg":1,"x":47.4,"y":0.332},{"panel":"F2","series":"EXP","seg":1,"x":52.3,"y":0.286},{"panel":"F2","series":"EXP","seg":1,"x":57.6,"y":0.242},{"panel":"F2","series":"EXP","seg":1,"x":58.1,"y":0.3},{"panel":"F2","series":"EXP","seg":1,"x":58.6,"y":0.47},{"panel":"F2","series":"EXP","seg":1,"x":60.1,"y":0.491},{"panel":"F2","series":"EXP","seg":1,"x":61.8,"y":0.497},{"panel":"F2","series":"EXP","seg":1,"x":63,"y":0.47},{"panel":"F2","series":"EXP","seg":1,"x":65.9,"y":0.41},{"panel":"F2","series":"EXP","seg":1,"x":69.8,"y":0.364},{"panel":"F2","series":"EXP","seg":1,"x":74.6,"y":0.314},{"panel":"F2","series":"EXP","seg":1,"x":77.7,"y":0.282},{"panel":"F2","series":"EXP","seg":1,"x":78.3,"y":0.346},{"panel":"F2","series":"EXP","seg":1,"x":79,"y":0.493},{"panel":"F2","series":"EXP","seg":1,"x":80.5,"y":0.511},{"panel":"F2","series":"EXP","seg":1,"x":81.9,"y":0.515},{"panel":"F2","series":"EXP","seg":1,"x":82.9,"y":0.484},{"panel":"F2","series":"EXP","seg":1,"x":85.3,"y":0.428},{"panel":"F2","series":"EXP","seg":1,"x":89.2,"y":0.364},{"panel":"F2","series":"EXP","seg":1,"x":96,"y":0.304},{"panel":"F2","series":"EXP","seg":1,"x":100.9,"y":0.284},{"panel":"F2","series":"EXP","seg":1,"x":110.6,"y":0.249},{"panel":"F2","series":"EXP","seg":1,"x":120.3,"y":0.217},{"panel":"F2","series":"EXP","seg":1,"x":130,"y":0.196},{"panel":"F2","series":"EXP","seg":1,"x":139.7,"y":0.178},
      {"panel":"F2","series":"Colban","seg":1,"x":0,"y":0},{"panel":"F2","series":"Colban","seg":1,"x":1.9,"y":0},{"panel":"F2","series":"Colban","seg":1,"x":2.3,"y":0.345},{"panel":"F2","series":"Colban","seg":1,"x":2.5,"y":0.336},{"panel":"F2","series":"Colban","seg":1,"x":3.7,"y":0.31},{"panel":"F2","series":"Colban","seg":1,"x":6.6,"y":0.255},{"panel":"F2","series":"Colban","seg":1,"x":10.5,"y":0.21},{"panel":"F2","series":"Colban","seg":1,"x":15.4,"y":0.172},{"panel":"F2","series":"Colban","seg":1,"x":21.7,"y":0.144},{"panel":"F2","series":"Colban","seg":1,"x":21.9,"y":0.143},{"panel":"F2","series":"Colban","seg":1,"x":22.3,"y":0.432},{"panel":"F2","series":"Colban","seg":1,"x":22.45,"y":0.422},{"panel":"F2","series":"Colban","seg":1,"x":23.1,"y":0.402},{"panel":"F2","series":"Colban","seg":1,"x":26,"y":0.347},{"panel":"F2","series":"Colban","seg":1,"x":30.9,"y":0.295},{"panel":"F2","series":"Colban","seg":1,"x":35.8,"y":0.256},{"panel":"F2","series":"Colban","seg":1,"x":41.4,"y":0.227},{"panel":"F2","series":"Colban","seg":1,"x":41.6,"y":0.226},{"panel":"F2","series":"Colban","seg":1,"x":42,"y":0.49},{"panel":"F2","series":"Colban","seg":1,"x":42.2,"y":0.48},{"panel":"F2","series":"Colban","seg":1,"x":43.1,"y":0.458},{"panel":"F2","series":"Colban","seg":1,"x":45.5,"y":0.418},{"panel":"F2","series":"Colban","seg":1,"x":50.3,"y":0.368},{"panel":"F2","series":"Colban","seg":1,"x":56.2,"y":0.318},{"panel":"F2","series":"Colban","seg":1,"x":61.5,"y":0.2807},{"panel":"F2","series":"Colban","seg":1,"x":61.7,"y":0.279},{"panel":"F2","series":"Colban","seg":1,"x":62.2,"y":0.512},{"panel":"F2","series":"Colban","seg":1,"x":62.4,"y":0.502},{"panel":"F2","series":"Colban","seg":1,"x":63.2,"y":0.482},{"panel":"F2","series":"Colban","seg":1,"x":65.9,"y":0.435},{"panel":"F2","series":"Colban","seg":1,"x":71.7,"y":0.374},{"panel":"F2","series":"Colban","seg":1,"x":76.6,"y":0.329},{"panel":"F2","series":"Colban","seg":1,"x":81.4,"y":0.29},{"panel":"F2","series":"Colban","seg":1,"x":81.6,"y":0.288},{"panel":"F2","series":"Colban","seg":1,"x":82.1,"y":0.52},{"panel":"F2","series":"Colban","seg":1,"x":82.3,"y":0.507},{"panel":"F2","series":"Colban","seg":1,"x":83.4,"y":0.472},{"panel":"F2","series":"Colban","seg":1,"x":86.3,"y":0.425},{"panel":"F2","series":"Colban","seg":1,"x":91.2,"y":0.372},{"panel":"F2","series":"Colban","seg":1,"x":99.9,"y":0.314},{"panel":"F2","series":"Colban","seg":1,"x":110.6,"y":0.272},{"panel":"F2","series":"Colban","seg":1,"x":120.3,"y":0.243},{"panel":"F2","series":"Colban","seg":1,"x":130,"y":0.22},{"panel":"F2","series":"Colban","seg":1,"x":140,"y":0.2},
      {"panel":"F2","series":"Chen","seg":1,"x":0,"y":0},{"panel":"F2","series":"Chen","seg":1,"x":1.9,"y":0},{"panel":"F2","series":"Chen","seg":1,"x":2.3,"y":0.37},{"panel":"F2","series":"Chen","seg":1,"x":2.5,"y":0.358},{"panel":"F2","series":"Chen","seg":1,"x":3.7,"y":0.323},{"panel":"F2","series":"Chen","seg":1,"x":6.6,"y":0.263},{"panel":"F2","series":"Chen","seg":1,"x":10.5,"y":0.217},{"panel":"F2","series":"Chen","seg":1,"x":15.4,"y":0.176},{"panel":"F2","series":"Chen","seg":1,"x":21.7,"y":0.141},{"panel":"F2","series":"Chen","seg":1,"x":21.9,"y":0.14},{"panel":"F2","series":"Chen","seg":1,"x":22.3,"y":0.452},{"panel":"F2","series":"Chen","seg":1,"x":22.45,"y":0.44},{"panel":"F2","series":"Chen","seg":1,"x":23.1,"y":0.415},{"panel":"F2","series":"Chen","seg":1,"x":26,"y":0.355},{"panel":"F2","series":"Chen","seg":1,"x":30.9,"y":0.3},{"panel":"F2","series":"Chen","seg":1,"x":35.8,"y":0.258},{"panel":"F2","series":"Chen","seg":1,"x":41.4,"y":0.2232},{"panel":"F2","series":"Chen","seg":1,"x":41.6,"y":0.222},{"panel":"F2","series":"Chen","seg":1,"x":42,"y":0.512},{"panel":"F2","series":"Chen","seg":1,"x":42.2,"y":0.5},{"panel":"F2","series":"Chen","seg":1,"x":43.1,"y":0.474},{"panel":"F2","series":"Chen","seg":1,"x":45.5,"y":0.428},{"panel":"F2","series":"Chen","seg":1,"x":50.3,"y":0.373},{"panel":"F2","series":"Chen","seg":1,"x":56.2,"y":0.32},{"panel":"F2","series":"Chen","seg":1,"x":61.5,"y":0.276},{"panel":"F2","series":"Chen","seg":1,"x":61.7,"y":0.274},{"panel":"F2","series":"Chen","seg":1,"x":62.2,"y":0.54},{"panel":"F2","series":"Chen","seg":1,"x":62.4,"y":0.526},{"panel":"F2","series":"Chen","seg":1,"x":63.2,"y":0.502},{"panel":"F2","series":"Chen","seg":1,"x":65.9,"y":0.447},{"panel":"F2","series":"Chen","seg":1,"x":71.7,"y":0.378},{"panel":"F2","series":"Chen","seg":1,"x":76.6,"y":0.327},{"panel":"F2","series":"Chen","seg":1,"x":81.4,"y":0.285},{"panel":"F2","series":"Chen","seg":1,"x":81.6,"y":0.282},{"panel":"F2","series":"Chen","seg":1,"x":82.1,"y":0.539},{"panel":"F2","series":"Chen","seg":1,"x":82.3,"y":0.524},{"panel":"F2","series":"Chen","seg":1,"x":83.4,"y":0.484},{"panel":"F2","series":"Chen","seg":1,"x":86.3,"y":0.429},{"panel":"F2","series":"Chen","seg":1,"x":91.2,"y":0.371},{"panel":"F2","series":"Chen","seg":1,"x":95,"y":0.338},{"panel":"F2","series":"Chen","seg":1,"x":99.9,"y":0.309},{"panel":"F2","series":"Chen","seg":1,"x":110.6,"y":0.265},{"panel":"F2","series":"Chen","seg":1,"x":120.3,"y":0.235},{"panel":"F2","series":"Chen","seg":1,"x":130,"y":0.212},{"panel":"F2","series":"Chen","seg":1,"x":140,"y":0.194}
    ]
  },
  "data": {"name": "curves"},
  "columns": 3,
  "spacing": {"row": 68, "column": 75},
  "bounds": "flush",
  "resolve": {"scale": {"color": "independent"}, "legend": {"color": "independent"}},
  "concat": [
    {
      "width": 1040, "height": 654,
      "title": {"text": "Pressure side", "font": "Liberation Mono", "fontSize": 71, "fontWeight": "bold", "color": "#000000", "offset": 45, "dx": -42, "frame": "group"},
      "layer": [
        {"transform": [{"filter": "datum.panel === 'P1'"}], "mark": {"type": "line", "strokeWidth": 4.5, "interpolate": "monotone"},
         "encoding": {
           "x": {"field": "x", "type": "quantitative", "scale": {"domain": [0, 80], "nice": false, "zero": false}, "axis": {"orient": "bottom", "values": [0,2,4,6,8,10,12,14,16,18,20,22,24,26,28,30,32,34,36,38,40,42,44,46,48,50,52,54,56,58,60,62,64,66,68,70,72,74,76,78,80], "grid": true, "gridColor": "#cfcfcf", "gridWidth": 1, "labels": false, "title": null}},
           "y": {"field": "y", "type": "quantitative", "scale": {"domain": [0, 0.6], "nice": false}, "axis": null},
           "color": {"field": "series", "type": "nominal", "scale": {"domain": ["EXP", "Colban", "Chen"], "range": ["#4472C4", "#CC0000", "#000000"]}, "legend": null},
           "detail": {"field": "seg", "type": "nominal"}}},
        {"data": {"values": [{"label": "BR1"}]}, "mark": {"type": "rect", "fill": "white", "stroke": "black", "strokeWidth": 7},
         "encoding": {
           "x": {"datum": 0.3, "type": "quantitative", "scale": {"domain": [0, 80], "nice": false, "zero": false}, "axis": {"orient": "bottom", "values": [0,10,20,30,40,50,60,70,80], "grid": true, "gridColor": "#8a8a8a", "gridWidth": 1.5, "labels": false, "title": null}},
           "x2": {"datum": 19.3},
           "y": {"datum": 0.6, "type": "quantitative", "scale": {"domain": [0, 0.6], "nice": false}, "axis": {"orient": "left", "values": [0,0.1,0.2,0.3,0.4,0.5,0.6], "format": ".2f", "grid": true, "gridColor": "#8a8a8a", "gridWidth": 2, "labelFontSize": 38, "labelColor": "#3a3a3a", "labelPadding": 35, "title": "ηₛₚₐₙ [-]", "titleFontSize": 32, "titleColor": "#3a3a3a", "titlePadding": 12}},
           "y2": {"datum": 0.505}}},
        {"data": {"values": [{"label": "BR1"}]}, "mark": {"type": "text", "font": "Liberation Mono", "fontWeight": "bold", "fontSize": 64, "color": "black"},
         "encoding": {"x": {"datum": 9.8, "type": "quantitative", "axis": null}, "y": {"datum": 0.552, "type": "quantitative", "axis": null}, "text": {"field": "label"}}}
      ],
      "resolve": {"axis": {"x": "independent", "y": "independent"}}
    },
    {
      "width": 1049, "height": 654,
      "title": {"text": "Suction side", "font": "Liberation Mono", "fontSize": 71, "fontWeight": "bold", "color": "#000000", "offset": 63, "dx": 7, "frame": "group"},
      "layer": [
        {"transform": [{"filter": "datum.panel === 'S1'"}], "mark": {"type": "line", "strokeWidth": 6, "interpolate": "monotone"},
         "encoding": {
           "x": {"field": "x", "type": "quantitative", "scale": {"domain": [0, 180], "nice": false, "zero": false}, "axis": {"orient": "bottom", "values": [0,4,8,12,16,20,24,28,32,36,40,44,48,52,56,60,64,68,72,76,80,84,88,92,96,100,104,108,112,116,120,124,128,132,136,140,144,148,152,156,160,164,168,172,176,180], "grid": true, "gridColor": "#cfcfcf", "gridWidth": 1, "labels": false, "title": null}},
           "y": {"field": "y", "type": "quantitative", "scale": {"domain": [0, 0.6], "nice": false}, "axis": null},
           "color": {"field": "series", "type": "nominal", "scale": {"domain": ["EXP", "Colban", "Chen"], "range": ["#4A7DC9", "#C0504D", "#000000"]}, "legend": null},
           "detail": {"field": "seg", "type": "nominal"}}},
        {"data": {"values": [{"label": "BR1"}]}, "mark": {"type": "rect", "fill": "white", "stroke": "black", "strokeWidth": 7},
         "encoding": {
           "x": {"datum": 0, "type": "quantitative", "scale": {"domain": [0, 180], "nice": false, "zero": false}, "axis": {"orient": "bottom", "values": [0,20,40,60,80,100,120,140,160,180], "grid": true, "gridColor": "#aaa57c", "gridWidth": 1.5, "labels": false, "title": null}},
           "x2": {"datum": 42.7},
           "y": {"datum": 0.595, "type": "quantitative", "scale": {"domain": [0, 0.6], "nice": false}, "axis": {"orient": "left", "values": [0,0.1,0.2,0.3,0.4,0.5,0.6], "grid": true, "gridColor": "#8a8a8a", "gridWidth": 2, "labels": false, "title": null}},
           "y2": {"datum": 0.5}}},
        {"data": {"values": [{"label": "BR1"}]}, "mark": {"type": "text", "font": "Liberation Mono", "fontWeight": "bold", "fontSize": 64, "color": "black"},
         "encoding": {"x": {"datum": 21.3, "type": "quantitative", "axis": null}, "y": {"datum": 0.548, "type": "quantitative", "axis": null}, "text": {"field": "label"}}}
      ],
      "resolve": {"axis": {"x": "independent", "y": "independent"}}
    },
    {
      "width": 1040, "height": 654,
      "title": {"text": "Flat plate", "font": "Liberation Mono", "fontSize": 71, "fontWeight": "bold", "color": "#000000", "offset": 63, "dx": -33, "frame": "group"},
      "layer": [
        {"transform": [{"filter": "datum.panel === 'F1'"}], "mark": {"type": "line", "strokeWidth": 6, "interpolate": "monotone"},
         "encoding": {
           "x": {"field": "x", "type": "quantitative", "scale": {"domain": [0, 140], "nice": false, "zero": false}, "axis": {"orient": "bottom", "values": [0,4,8,12,16,20,24,28,32,36,40,44,48,52,56,60,64,68,72,76,80,84,88,92,96,100,104,108,112,116,120,124,128,132,136,140], "grid": true, "gridColor": "#c8c8c8", "gridWidth": 1, "labels": false, "title": null}},
           "y": {"field": "y", "type": "quantitative", "scale": {"domain": [0, 0.6], "nice": false}, "axis": {"orient": "left", "values": [0,0.02,0.04,0.06,0.08,0.1,0.12,0.14,0.16,0.18,0.2,0.22,0.24,0.26,0.28,0.3,0.32,0.34,0.36,0.38,0.4,0.42,0.44,0.46,0.48,0.5,0.52,0.54,0.56,0.58,0.6], "grid": true, "gridColor": "#c8c8c8", "gridWidth": 1, "labels": false, "title": null}},
           "color": {"field": "series", "type": "nominal", "scale": {"domain": ["EXP", "Colban", "Chen"], "range": ["#4A7DC9", "#C0504D", "#000000"]}, "legend": null},
           "detail": {"field": "seg", "type": "nominal"}}},
        {"data": {"values": [{"label": "BR1"}]}, "mark": {"type": "rect", "fill": "white", "stroke": "black", "strokeWidth": 7},
         "encoding": {
           "x": {"datum": 0.8, "type": "quantitative", "scale": {"domain": [0, 140], "nice": false, "zero": false}, "axis": {"orient": "bottom", "values": [0,20,40,60,80,100,120,140], "grid": true, "gridColor": "#333333", "gridWidth": 1.5, "labels": false, "title": null}},
           "x2": {"datum": 34.8},
           "y": {"datum": 0.596, "type": "quantitative", "scale": {"domain": [0, 0.6], "nice": false}, "axis": {"orient": "left", "values": [0,0.1,0.2,0.3,0.4,0.5,0.6], "grid": true, "gridColor": "#333333", "gridWidth": 1.5, "labels": false, "title": null}},
           "y2": {"datum": 0.501}}},
        {"data": {"values": [{"label": "BR1"}]}, "mark": {"type": "text", "font": "Liberation Mono", "fontWeight": "bold", "fontSize": 64, "color": "black"},
         "encoding": {"x": {"datum": 17.8, "type": "quantitative", "axis": null}, "y": {"datum": 0.549, "type": "quantitative", "axis": null}, "text": {"field": "label"}}}
      ],
      "resolve": {"axis": {"x": "independent", "y": "independent"}}
    },
    {
      "width": 1040, "height": 654,
      "layer": [
        {"transform": [{"filter": "datum.panel === 'P15'"}], "mark": {"type": "line", "strokeWidth": 4.5, "interpolate": "monotone"},
         "encoding": {
           "x": {"field": "x", "type": "quantitative", "scale": {"domain": [0, 80], "nice": false, "zero": false}, "axis": {"orient": "bottom", "values": [0,2,4,6,8,10,12,14,16,18,20,22,24,26,28,30,32,34,36,38,40,42,44,46,48,50,52,54,56,58,60,62,64,66,68,70,72,74,76,78,80], "grid": true, "gridColor": "#cfcfcf", "gridWidth": 1, "labels": false, "title": null}},
           "y": {"field": "y", "type": "quantitative", "scale": {"domain": [0, 0.6], "nice": false}, "axis": null},
           "color": {"field": "series", "type": "nominal", "scale": {"domain": ["EXP", "Colban", "Chen"], "range": ["#4472C4", "#CC0000", "#000000"]}, "legend": null},
           "detail": {"field": "seg", "type": "nominal"}}},
        {"data": {"values": [{"label": "BR1.5"}]}, "mark": {"type": "rect", "fill": "white", "stroke": "black", "strokeWidth": 7},
         "encoding": {
           "x": {"datum": 0.2, "type": "quantitative", "scale": {"domain": [0, 80], "nice": false, "zero": false}, "axis": {"orient": "bottom", "values": [0,10,20,30,40,50,60,70,80], "grid": true, "gridColor": "#8a8a8a", "gridWidth": 1.5, "labels": false, "title": null}},
           "x2": {"datum": 19.1},
           "y": {"datum": 0.599, "type": "quantitative", "scale": {"domain": [0, 0.6], "nice": false}, "axis": {"orient": "left", "values": [0,0.1,0.2,0.3,0.4,0.5,0.6], "format": ".2f", "grid": true, "gridColor": "#8a8a8a", "gridWidth": 2, "labelFontSize": 38, "labelColor": "#3a3a3a", "labelPadding": 35, "title": "ηₛₚₐₙ [-]", "titleFontSize": 32, "titleColor": "#3a3a3a", "titlePadding": 12}},
           "y2": {"datum": 0.502}}},
        {"data": {"values": [{"label": "BR1.5"}]}, "mark": {"type": "text", "font": "Liberation Mono", "fontWeight": "bold", "fontSize": 64, "color": "black"},
         "encoding": {"x": {"datum": 9.65, "type": "quantitative", "axis": null}, "y": {"datum": 0.55, "type": "quantitative", "axis": null}, "text": {"field": "label"}}}
      ],
      "resolve": {"axis": {"x": "independent", "y": "independent"}}
    },
    {
      "width": 1049, "height": 654,
      "layer": [
        {"transform": [{"filter": "datum.panel === 'S15'"}], "mark": {"type": "line", "strokeWidth": 6, "interpolate": "monotone"},
         "encoding": {
           "x": {"field": "x", "type": "quantitative", "scale": {"domain": [0, 180], "nice": false, "zero": false}, "axis": {"orient": "bottom", "values": [0,4,8,12,16,20,24,28,32,36,40,44,48,52,56,60,64,68,72,76,80,84,88,92,96,100,104,108,112,116,120,124,128,132,136,140,144,148,152,156,160,164,168,172,176,180], "grid": true, "gridColor": "#cfcfcf", "gridWidth": 1, "labels": false, "title": null}},
           "y": {"field": "y", "type": "quantitative", "scale": {"domain": [0, 0.6], "nice": false}, "axis": null},
           "color": {"field": "series", "type": "nominal", "scale": {"domain": ["EXP", "Colban", "Chen"], "range": ["#4A7DC9", "#C0504D", "#000000"]}, "legend": null},
           "detail": {"field": "seg", "type": "nominal"}}},
        {"data": {"values": [{"label": "BR1.5"}]}, "mark": {"type": "rect", "fill": "white", "stroke": "black", "strokeWidth": 7},
         "encoding": {
           "x": {"datum": 1.2, "type": "quantitative", "scale": {"domain": [0, 180], "nice": false, "zero": false}, "axis": {"orient": "bottom", "values": [0,20,40,60,80,100,120,140,160,180], "grid": true, "gridColor": "#aaa57c", "gridWidth": 1.5, "labels": false, "title": null}},
           "x2": {"datum": 43.8},
           "y": {"datum": 0.59, "type": "quantitative", "scale": {"domain": [0, 0.6], "nice": false}, "axis": {"orient": "left", "values": [0,0.1,0.2,0.3,0.4,0.5,0.6], "grid": true, "gridColor": "#8a8a8a", "gridWidth": 2, "labels": false, "title": null}},
           "y2": {"datum": 0.496}}},
        {"data": {"values": [{"label": "BR1.5"}]}, "mark": {"type": "text", "font": "Liberation Mono", "fontWeight": "bold", "fontSize": 64, "color": "black"},
         "encoding": {"x": {"datum": 22.5, "type": "quantitative", "axis": null}, "y": {"datum": 0.543, "type": "quantitative", "axis": null}, "text": {"field": "label"}}}
      ],
      "resolve": {"axis": {"x": "independent", "y": "independent"}}
    },
    {
      "width": 1040, "height": 654,
      "data": {"values": [{"label": ""}]},
      "mark": {"type": "text", "text": ""}
    },
    {
      "width": 1040, "height": 654,
      "layer": [
        {"transform": [{"filter": "datum.panel === 'P2'"}], "mark": {"type": "line", "strokeWidth": 4.5, "interpolate": "monotone"},
         "encoding": {
           "x": {"field": "x", "type": "quantitative", "scale": {"domain": [0, 80], "nice": false, "zero": false}, "axis": {"orient": "bottom", "values": [0,2,4,6,8,10,12,14,16,18,20,22,24,26,28,30,32,34,36,38,40,42,44,46,48,50,52,54,56,58,60,62,64,66,68,70,72,74,76,78,80], "grid": true, "gridColor": "#cfcfcf", "gridWidth": 1, "labels": false, "title": null}},
           "y": {"field": "y", "type": "quantitative", "scale": {"domain": [0, 0.6], "nice": false}, "axis": null},
           "color": {"field": "series", "type": "nominal", "scale": {"domain": ["EXP", "Colban", "Chen"], "range": ["#4472C4", "#CC0000", "#000000"]}, "legend": null},
           "detail": {"field": "seg", "type": "nominal"}}},
        {"data": {"values": [{"label": "BR2"}]}, "mark": {"type": "rect", "fill": "white", "stroke": "black", "strokeWidth": 7},
         "encoding": {
           "x": {"datum": 0, "type": "quantitative", "scale": {"domain": [0, 80], "nice": false, "zero": false}, "axis": {"orient": "bottom", "values": [0,10,20,30,40,50,60,70,80], "grid": true, "gridColor": "#8a8a8a", "gridWidth": 1.5, "labels": false, "title": null}},
           "x2": {"datum": 17},
           "y": {"datum": 0.6, "type": "quantitative", "scale": {"domain": [0, 0.6], "nice": false}, "axis": {"orient": "left", "values": [0,0.1,0.2,0.3,0.4,0.5,0.6], "format": ".2f", "grid": true, "gridColor": "#8a8a8a", "gridWidth": 2, "labelFontSize": 38, "labelColor": "#3a3a3a", "labelPadding": 35, "title": "ηₛₚₐₙ [-]", "titleFontSize": 32, "titleColor": "#3a3a3a", "titlePadding": 12}},
           "y2": {"datum": 0.505}}},
        {"data": {"values": [{"label": "BR2"}]}, "mark": {"type": "text", "font": "Liberation Mono", "fontWeight": "bold", "fontSize": 64, "color": "black"},
         "encoding": {"x": {"datum": 8.5, "type": "quantitative", "axis": null}, "y": {"datum": 0.552, "type": "quantitative", "axis": null}, "text": {"field": "label"}}}
      ],
      "resolve": {"axis": {"x": "independent", "y": "independent"}}
    },
    {
      "width": 1049, "height": 654,
      "layer": [
        {"transform": [{"filter": "datum.panel === 'S2'"}], "mark": {"type": "line", "strokeWidth": 6, "interpolate": "monotone"},
         "encoding": {
           "x": {"field": "x", "type": "quantitative", "scale": {"domain": [0, 180], "nice": false, "zero": false}, "axis": {"orient": "bottom", "values": [0,4,8,12,16,20,24,28,32,36,40,44,48,52,56,60,64,68,72,76,80,84,88,92,96,100,104,108,112,116,120,124,128,132,136,140,144,148,152,156,160,164,168,172,176,180], "grid": true, "gridColor": "#cfcfcf", "gridWidth": 1, "labels": false, "title": null}},
           "y": {"field": "y", "type": "quantitative", "scale": {"domain": [0, 0.6], "nice": false}, "axis": null},
           "color": {"field": "series", "type": "nominal", "scale": {"domain": ["EXP", "Colban", "Chen"], "range": ["#4A7DC9", "#C0504D", "#000000"]}, "legend": null},
           "detail": {"field": "seg", "type": "nominal"}}},
        {"data": {"values": [{"label": "BR2"}]}, "mark": {"type": "rect", "fill": "white", "stroke": "black", "strokeWidth": 7},
         "encoding": {
           "x": {"datum": 0, "type": "quantitative", "scale": {"domain": [0, 180], "nice": false, "zero": false}, "axis": {"orient": "bottom", "values": [0,20,40,60,80,100,120,140,160,180], "grid": true, "gridColor": "#aaa57c", "gridWidth": 1.5, "labels": false, "title": null}},
           "x2": {"datum": 37.8},
           "y": {"datum": 0.599, "type": "quantitative", "scale": {"domain": [0, 0.6], "nice": false}, "axis": {"orient": "left", "values": [0,0.1,0.2,0.3,0.4,0.5,0.6], "grid": true, "gridColor": "#8a8a8a", "gridWidth": 2, "labels": false, "title": null}},
           "y2": {"datum": 0.506}}},
        {"data": {"values": [{"label": "BR2"}]}, "mark": {"type": "text", "font": "Liberation Mono", "fontWeight": "bold", "fontSize": 64, "color": "black"},
         "encoding": {"x": {"datum": 18.9, "type": "quantitative", "axis": null}, "y": {"datum": 0.553, "type": "quantitative", "axis": null}, "text": {"field": "label"}}}
      ],
      "resolve": {"axis": {"x": "independent", "y": "independent"}}
    },
    {
      "width": 1040, "height": 654,
      "layer": [
        {"transform": [{"filter": "datum.panel === 'F2'"}], "mark": {"type": "line", "strokeWidth": 6, "interpolate": "monotone"},
         "encoding": {
           "x": {"field": "x", "type": "quantitative", "scale": {"domain": [0, 140], "nice": false, "zero": false}, "axis": {"orient": "bottom", "values": [0,4,8,12,16,20,24,28,32,36,40,44,48,52,56,60,64,68,72,76,80,84,88,92,96,100,104,108,112,116,120,124,128,132,136,140], "grid": true, "gridColor": "#c8c8c8", "gridWidth": 1, "labels": false, "title": null}},
           "y": {"field": "y", "type": "quantitative", "scale": {"domain": [0, 0.6], "nice": false}, "axis": {"orient": "left", "values": [0,0.02,0.04,0.06,0.08,0.1,0.12,0.14,0.16,0.18,0.2,0.22,0.24,0.26,0.28,0.3,0.32,0.34,0.36,0.38,0.4,0.42,0.44,0.46,0.48,0.5,0.52,0.54,0.56,0.58,0.6], "grid": true, "gridColor": "#c8c8c8", "gridWidth": 1, "labels": false, "title": null}},
           "color": {"field": "series", "type": "nominal", "scale": {"domain": ["EXP", "Colban", "Chen"], "range": ["#4A7DC9", "#C0504D", "#000000"]}, "legend": null},
           "detail": {"field": "seg", "type": "nominal"}}},
        {"data": {"values": [{"label": "BR2"}]}, "mark": {"type": "rect", "fill": "white", "stroke": "black", "strokeWidth": 7},
         "encoding": {
           "x": {"datum": 0, "type": "quantitative", "scale": {"domain": [0, 140], "nice": false, "zero": false}, "axis": {"orient": "bottom", "values": [0,20,40,60,80,100,120,140], "grid": true, "gridColor": "#333333", "gridWidth": 1.5, "labelFontSize": 32, "labelColor": "#111111", "labelPadding": 24, "title": "S/d [-]", "titleFontSize": 31, "titleColor": "#111111", "titlePadding": 12}},
           "x2": {"datum": 28.8},
           "y": {"datum": 0.596, "type": "quantitative", "scale": {"domain": [0, 0.6], "nice": false}, "axis": {"orient": "left", "values": [0,0.1,0.2,0.3,0.4,0.5,0.6], "grid": true, "gridColor": "#333333", "gridWidth": 1.5, "labels": false, "title": null}},
           "y2": {"datum": 0.501}}},
        {"data": {"values": [{"label": "BR2"}]}, "mark": {"type": "text", "font": "Liberation Mono", "fontWeight": "bold", "fontSize": 64, "color": "black"},
         "encoding": {"x": {"datum": 14.4, "type": "quantitative", "axis": null}, "y": {"datum": 0.549, "type": "quantitative", "axis": null}, "text": {"field": "label"}}}
      ],
      "resolve": {"axis": {"x": "independent", "y": "independent"}}
    },
    {
      "width": 1040, "height": 654,
      "layer": [
        {"transform": [{"filter": "datum.panel === 'P25'"}], "mark": {"type": "line", "strokeWidth": 4.5, "interpolate": "monotone"},
         "encoding": {
           "x": {"field": "x", "type": "quantitative", "scale": {"domain": [0, 80], "nice": false, "zero": false}, "axis": {"orient": "bottom", "values": [0,2,4,6,8,10,12,14,16,18,20,22,24,26,28,30,32,34,36,38,40,42,44,46,48,50,52,54,56,58,60,62,64,66,68,70,72,74,76,78,80], "grid": true, "gridColor": "#cfcfcf", "gridWidth": 1, "labels": false, "title": null}},
           "y": {"field": "y", "type": "quantitative", "scale": {"domain": [0, 0.6], "nice": false}, "axis": null},
           "color": {"field": "series", "type": "nominal", "scale": {"domain": ["EXP", "Colban", "Chen"], "range": ["#4472C4", "#CC0000", "#000000"]}, "legend": null},
           "detail": {"field": "seg", "type": "nominal"}}},
        {"data": {"values": [{"label": "BR2.5"}]}, "mark": {"type": "rect", "fill": "white", "stroke": "black", "strokeWidth": 7},
         "encoding": {
           "x": {"datum": 0.1, "type": "quantitative", "scale": {"domain": [0, 80], "nice": false, "zero": false}, "axis": {"orient": "bottom", "values": [0,10,20,30,40,50,60,70,80], "grid": true, "gridColor": "#8a8a8a", "gridWidth": 1.5, "labelFontSize": 37, "labelColor": "#3a3a3a", "labelPadding": 28, "title": "S/d [-]", "titleFontSize": 37, "titleColor": "#3a3a3a", "titlePadding": 22}},
           "x2": {"datum": 19.4},
           "y": {"datum": 0.595, "type": "quantitative", "scale": {"domain": [0, 0.6], "nice": false}, "axis": {"orient": "left", "values": [0,0.1,0.2,0.3,0.4,0.5,0.6], "format": ".2f", "grid": true, "gridColor": "#8a8a8a", "gridWidth": 2, "labelFontSize": 38, "labelColor": "#3a3a3a", "labelPadding": 35, "title": "ηₛₚₐₙ [-]", "titleFontSize": 32, "titleColor": "#3a3a3a", "titlePadding": 12}},
           "y2": {"datum": 0.5}}},
        {"data": {"values": [{"label": "BR2.5"}]}, "mark": {"type": "text", "font": "Liberation Mono", "fontWeight": "bold", "fontSize": 64, "color": "black"},
         "encoding": {"x": {"datum": 9.75, "type": "quantitative", "axis": null}, "y": {"datum": 0.548, "type": "quantitative", "axis": null}, "text": {"field": "label"}}}
      ],
      "resolve": {"axis": {"x": "independent", "y": "independent"}}
    },
    {
      "width": 1049, "height": 654,
      "layer": [
        {"transform": [{"filter": "datum.panel === 'S25'"}], "mark": {"type": "line", "strokeWidth": 6, "interpolate": "monotone"},
         "encoding": {
           "x": {"field": "x", "type": "quantitative", "scale": {"domain": [0, 180], "nice": false, "zero": false}, "axis": {"orient": "bottom", "values": [0,4,8,12,16,20,24,28,32,36,40,44,48,52,56,60,64,68,72,76,80,84,88,92,96,100,104,108,112,116,120,124,128,132,136,140,144,148,152,156,160,164,168,172,176,180], "grid": true, "gridColor": "#cfcfcf", "gridWidth": 1, "labels": false, "title": null}},
           "y": {"field": "y", "type": "quantitative", "scale": {"domain": [0, 0.6], "nice": false}, "axis": null},
           "color": {"field": "series", "type": "nominal", "scale": {"domain": ["EXP", "Colban", "Chen"], "range": ["#4A7DC9", "#C0504D", "#000000"]}, "legend": null},
           "detail": {"field": "seg", "type": "nominal"}}},
        {"data": {"values": [{"label": "BR2.5"}]}, "mark": {"type": "rect", "fill": "white", "stroke": "black", "strokeWidth": 7},
         "encoding": {
           "x": {"datum": 0, "type": "quantitative", "scale": {"domain": [0, 180], "nice": false, "zero": false}, "axis": {"orient": "bottom", "values": [0,20,40,60,80,100,120,140,160,180], "grid": true, "gridColor": "#aaa57c", "gridWidth": 1.5, "labelFontSize": 38, "labelColor": "#000000", "labelPadding": 28, "title": "S/d [-]", "titleFontSize": 38, "titleColor": "#000000", "titlePadding": 28}},
           "x2": {"datum": 42.5},
           "y": {"datum": 0.598, "type": "quantitative", "scale": {"domain": [0, 0.6], "nice": false}, "axis": {"orient": "left", "values": [0,0.1,0.2,0.3,0.4,0.5,0.6], "grid": true, "gridColor": "#8a8a8a", "gridWidth": 2, "labels": false, "title": null}},
           "y2": {"datum": 0.502}}},
        {"data": {"values": [{"label": "BR2.5"}]}, "mark": {"type": "text", "font": "Liberation Mono", "fontWeight": "bold", "fontSize": 64, "color": "black"},
         "encoding": {"x": {"datum": 21.2, "type": "quantitative", "axis": null}, "y": {"datum": 0.55, "type": "quantitative", "axis": null}, "text": {"field": "label"}}}
      ],
      "resolve": {"axis": {"x": "independent", "y": "independent"}}
    },
    {
      "width": 1040, "height": 654,
      "data": {"values": [{"series": "EXP"}, {"series": "Colban et al."}, {"series": "Chen et al."}]},
      "mark": {"type": "line"},
      "encoding": {
        "color": {"field": "series", "type": "nominal",
          "scale": {"domain": ["EXP", "Colban et al.", "Chen et al."], "range": ["#4472C4", "#C0504D", "#000000"]},
          "legend": {"title": null, "orient": "none", "legendX": 171, "legendY": 271, "padding": 0, "symbolType": "stroke", "symbolSize": 9216, "symbolStrokeWidth": 8, "labelFont": "Lato", "labelFontSize": 46, "labelColor": "#111111", "labelOffset": 10, "labelLimit": 0, "rowPadding": 43}}
      }
    }
  ],
  "config": {
    "view": {"stroke": null},
    "axis": {"domain": false, "ticks": false, "labelFont": "Liberation Mono", "labelFontWeight": "bold", "titleFont": "Liberation Mono", "titleFontWeight": "bold", "gridOpacity": 1, "labelFlush": false, "labelOverlap": false}
  }
}
